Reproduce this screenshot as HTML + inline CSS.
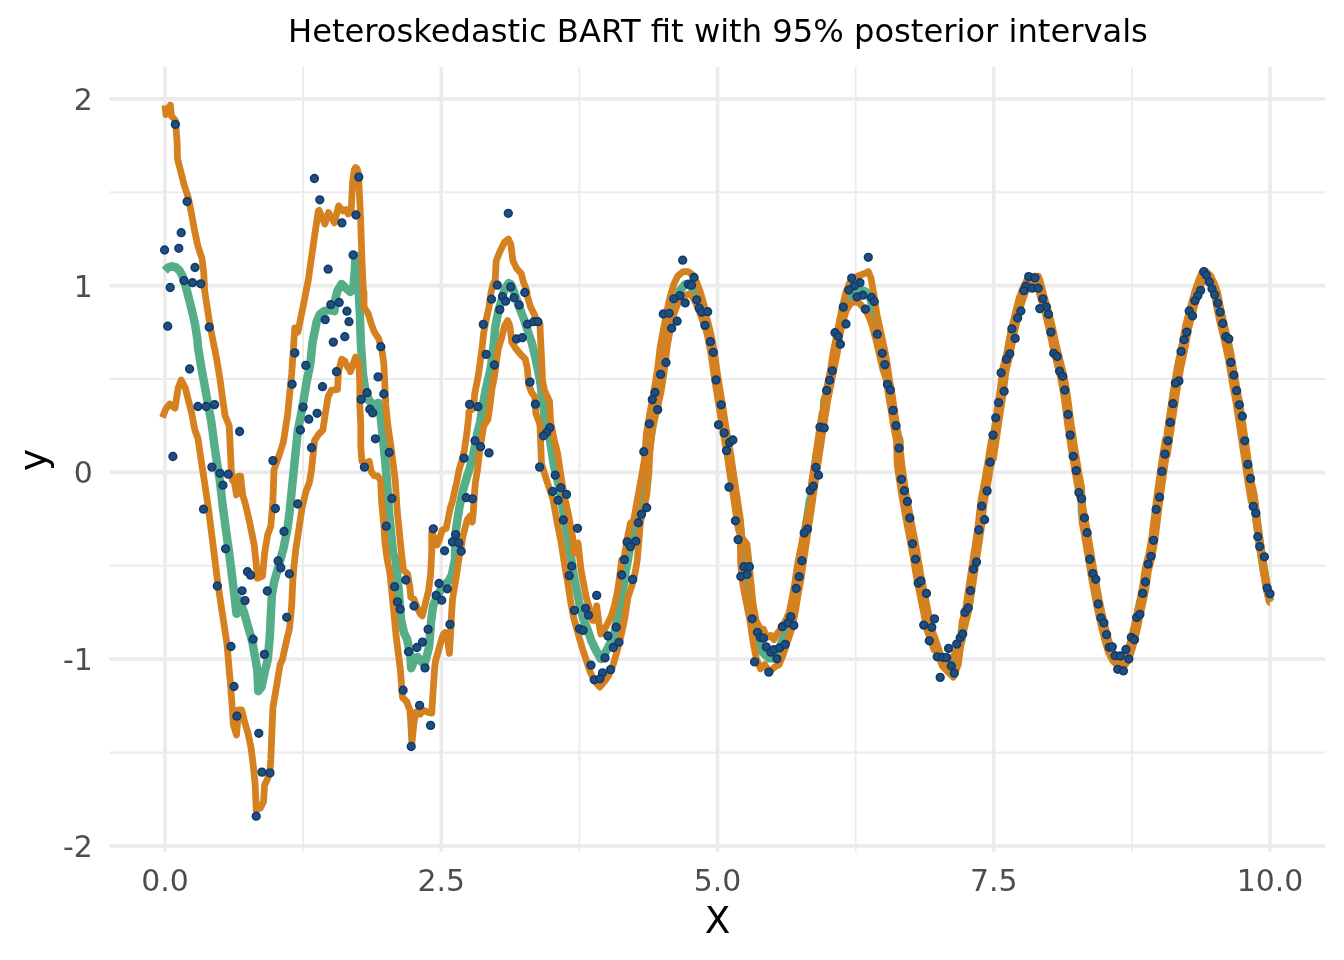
<!DOCTYPE html>
<html><head><meta charset="utf-8"><title>Heteroskedastic BART fit</title>
<style>html,body{margin:0;padding:0;background:#fff;}svg{display:block;}</style></head>
<body>
<svg width="1344" height="960" viewBox="0 0 1344 960">
<rect width="1344" height="960" fill="#fff"/>
<g stroke="#EBEBEB" stroke-width="1.81"><line x1="303.12" y1="67.1" x2="303.12" y2="851.7"/><line x1="579.38" y1="67.1" x2="579.38" y2="851.7"/><line x1="855.62" y1="67.1" x2="855.62" y2="851.7"/><line x1="1131.88" y1="67.1" x2="1131.88" y2="851.7"/><line x1="109.8" y1="752.52" x2="1325.4" y2="752.52"/><line x1="109.8" y1="565.77" x2="1325.4" y2="565.77"/><line x1="109.8" y1="379.02" x2="1325.4" y2="379.02"/><line x1="109.8" y1="192.27" x2="1325.4" y2="192.27"/></g>
<g stroke="#EBEBEB" stroke-width="3.62"><line x1="165.00" y1="67.1" x2="165.00" y2="851.7"/><line x1="441.25" y1="67.1" x2="441.25" y2="851.7"/><line x1="717.50" y1="67.1" x2="717.50" y2="851.7"/><line x1="993.75" y1="67.1" x2="993.75" y2="851.7"/><line x1="1270.00" y1="67.1" x2="1270.00" y2="851.7"/><line x1="109.8" y1="845.90" x2="1325.4" y2="845.90"/><line x1="109.8" y1="659.15" x2="1325.4" y2="659.15"/><line x1="109.8" y1="472.40" x2="1325.4" y2="472.40"/><line x1="109.8" y1="285.65" x2="1325.4" y2="285.65"/><line x1="109.8" y1="98.90" x2="1325.4" y2="98.90"/></g>
<path d="M164.8,270.8 L168.0,267.6 L172.0,266.2 L176.0,267.4 L179.5,270.5 L182.3,275.5 L184.6,282.5 L187.5,292.9 L190.1,303.3 L192.7,313.8 L195.0,324.0 L197.5,340.0 L197.9,346.7 L201.7,369.6 L206.7,396.7 L211.3,421.7 L214.6,446.7 L217.7,467.5 L219.8,480.0 L222.9,507.5 L226.0,530.4 L229.2,553.3 L232.3,578.3 L234.4,595.0 L236.5,613.8 L238.5,599.2 L240.6,603.3 L243.8,611.7 L247.9,626.2 L252.1,640.8 L255.2,657.5 L257.3,670.0 L258.3,691.2 L261.5,687.1 L264.6,672.5 L267.7,660.0 L269.8,636.7 L270.8,615.8 L271.9,595.0 L274.0,582.5 L278.1,567.9 L283.3,549.2 L287.5,528.3 L289.6,511.7 L291.7,490.8 L293.8,470.0 L297.9,430.0 L302.1,409.2 L306.2,384.2 L310.4,363.3 L312.5,342.5 L314.6,332.1 L316.7,321.7 L319.8,314.4 L324.0,311.2 L329.2,310.2 L334.4,311.2 L335.1,300.0 L337.3,291.2 L341.6,283.9 L345.3,287.6 L350.4,292.0 L353.3,288.3 L354.8,270.8 L355.5,256.0 L356.5,256.0 L357.7,264.0 L359.1,300.0 L359.8,311.2 L360.8,342.5 L362.9,373.8 L365.0,388.3 L369.2,400.8 L374.4,405.0 L378.5,402.9 L380.6,415.4 L382.7,436.2 L384.8,457.1 L386.9,480.0 L389.0,511.7 L391.0,532.5 L393.1,553.3 L395.6,560.0 L398.8,591.2 L400.8,618.3 L404.0,632.9 L407.1,639.2 L410.2,653.8 L411.2,668.3 L414.4,660.0 L417.5,656.9 L421.7,662.0 L424.8,663.1 L429.0,647.5 L431.0,622.5 L433.1,605.8 L437.3,595.4 L442.5,587.1 L448.8,580.8 L451.9,574.6 L455.0,560.0 L455.6,532.5 L457.7,517.9 L459.8,505.4 L462.9,490.8 L467.1,476.2 L469.2,470.0 L471.0,463.3 L474.1,450.8 L477.1,434.2 L480.2,421.7 L482.2,409.2 L485.2,392.5 L488.0,380.0 L490.9,367.5 L492.5,355.0 L493.9,342.5 L495.2,327.9 L498.3,311.2 L501.5,300.8 L503.5,292.5 L506.7,286.2 L508.8,283.1 L510.8,284.2 L515.0,294.6 L519.2,307.1 L523.3,317.5 L527.5,330.0 L531.7,342.5 L534.8,355.0 L537.9,369.6 L540.0,380.0 L544.6,415.8 L549.8,438.8 L554.0,465.8 L559.2,486.7 L563.3,511.7 L567.5,536.7 L571.7,561.7 L572.7,570.0 L574.8,580.8 L579.0,601.7 L583.1,618.3 L587.3,628.8 L591.5,641.2 L595.6,649.6 L600.8,659.0 L606.0,651.7 L610.2,643.3 L614.4,632.9 L617.5,618.3 L620.6,601.7 L623.8,585.0 L625.8,570.4 L627.9,560.0 L629.0,553.3 L632.1,536.7 L635.2,524.2 L638.3,511.7 L642.5,486.7 L646.7,463.8 L652.9,422.1 L659.2,380.4 L661.2,370.0 L663.3,359.2 L667.5,338.3 L671.7,317.5 L675.8,302.9 L680.0,290.4 L685.2,284.2 L690.4,285.2 L694.6,292.5 L698.8,305.0 L702.9,317.5 L705.5,320.0 L706.0,322.0 L706.5,324.1 L707.0,326.1 L707.5,328.1 L708.0,330.1 L708.5,332.2 L709.0,334.2 L709.5,336.5 L710.0,339.1 L710.5,341.7 L711.0,344.3 L711.5,346.8 L712.0,349.4 L712.5,352.0 L713.0,355.5 L713.5,359.0 L714.0,362.5 L714.5,366.0 L715.0,369.5 L715.5,373.0 L716.0,376.2 L716.5,379.4 L717.0,382.5 L717.5,385.6 L718.0,388.7 L718.5,391.9 L719.0,394.9 L719.5,397.9 L720.0,400.9 L720.5,404.0 L721.0,407.0 L721.5,410.0 L722.0,413.3 L722.5,416.6 L723.0,419.9 L723.5,423.1 L724.0,426.2 L724.5,429.3 L725.0,432.3 L725.5,435.3 L726.0,438.1 L726.5,440.9 L727.0,443.8 L727.5,446.6 L728.0,449.4 L728.5,452.2 L729.0,455.0 L729.5,458.5 L730.0,461.9 L730.5,465.4 L731.0,468.9 L731.5,472.3 L732.0,475.8 L732.5,479.1 L733.0,482.3 L733.5,485.6 L734.0,488.9 L734.5,492.1 L735.0,495.4 L735.5,498.7 L736.0,502.1 L736.5,505.4 L737.0,508.8 L737.5,512.1 L738.0,515.5 L738.5,518.7 L739.0,521.7 L739.5,524.6 L740.0,527.6 L740.4,530.0 L742.7,554.2 L744.8,566.7 L746.9,583.3 L750.0,604.2 L754.2,625.0 L758.3,641.7 L762.5,652.1 L768.8,658.3 L774.0,658.3 L779.2,650.0 L783.3,637.5 L787.5,625.0 L791.7,608.3 L794.8,591.7 L797.9,570.8 L801.5,552.1 L805.2,531.2 L810.0,500.0 L810.5,500.7 L811.0,498.0 L811.5,495.0 L812.0,491.7 L812.5,488.3 L813.0,485.0 L813.5,481.7 L814.0,478.3 L814.5,475.0 L815.0,471.7 L815.5,468.3 L816.0,465.0 L816.5,461.7 L817.0,458.3 L817.5,455.0 L818.0,451.7 L818.5,448.3 L819.0,445.0 L819.5,441.7 L820.0,438.3 L820.5,435.0 L821.0,431.7 L821.5,428.3 L822.0,425.0 L822.5,421.7 L823.0,418.3 L823.5,415.0 L823.8,413.3 L824.3,400.6 L827.4,392.8 L827.7,392.1 L830.6,377.7 L830.8,376.5 L832.9,364.1 L833.9,359.1 L836.1,348.3 L837.1,343.4 L839.2,330.9 L839.4,329.7 L842.3,315.2 L842.5,314.3 L846.0,301.8 L846.5,300.4 L849.5,294.2 L851.0,292.1 L853.0,290.6 L855.0,289.6 L857.0,289.4 L859.0,289.4 L862.0,290.2 L863.0,290.6 L866.0,292.1 L866.5,292.3 L868.3,293.5 L869.5,296.2 L871.0,300.2 L872.5,306.8 L874.0,313.8 L876.0,324.2 L877.0,329.6 L879.5,340.7 L880.5,345.1 L883.0,356.2 L884.0,359.9 L885.8,367.1 L887.0,374.0 L888.3,382.7 L889.2,388.5 L891.0,398.8 L892.0,404.8 L893.4,414.1 L894.3,419.5 L896.5,432.5 L896.6,432.8 L899.5,440.6 L899.6,465.0 L900.1,469.0 L900.6,472.4 L901.1,475.7 L901.6,479.0 L902.1,482.4 L902.6,485.7 L903.1,489.0 L903.6,492.4 L904.1,495.4 L904.6,498.2 L905.1,500.9 L905.6,503.6 L906.1,506.4 L906.6,509.1 L907.1,511.8 L907.6,514.6 L908.1,517.3 L908.6,520.1 L909.1,522.7 L909.6,525.3 L910.1,527.9 L910.6,530.5 L911.1,533.2 L911.6,535.8 L912.1,538.4 L912.6,541.0 L913.1,543.6 L913.6,546.2 L914.1,548.9 L914.6,551.8 L915.1,554.8 L915.6,557.8 L916.1,560.8 L916.6,563.8 L917.1,566.7 L917.6,569.7 L918.1,572.7 L918.6,575.7 L919.1,578.2 L919.6,580.7 L920.1,583.2 L920.6,585.7 L921.1,588.2 L921.6,590.7 L922.1,593.2 L922.6,595.7 L923.1,598.2 L923.6,600.7 L924.1,603.2 L924.6,605.7 L925.1,608.2 L925.6,610.7 L926.1,613.2 L926.6,615.7 L927.1,618.2 L927.6,620.7 L928.1,623.2 L928.6,625.7 L929.1,628.2 L929.6,630.2 L930.1,631.6 L930.6,633.0 L931.1,634.4 L931.6,635.8 L932.1,637.2 L932.6,638.6 L933.1,640.0 L933.6,641.4 L934.1,642.8 L934.6,644.2 L935.1,645.6 L935.6,647.0 L936.1,648.4 L936.2,648.7 L941.9,660.9 L949.2,663.6 L956.0,656.8 L961.4,640.5 L961.9,630.5 L962.4,628.5 L962.9,626.5 L963.4,624.5 L963.9,622.5 L964.4,620.5 L964.9,618.5 L965.4,616.5 L965.9,614.5 L966.4,612.5 L966.9,610.5 L967.4,608.5 L967.9,605.6 L968.4,602.2 L968.9,598.9 L969.4,595.6 L969.9,592.2 L970.4,588.9 L970.9,585.6 L971.4,582.2 L971.9,578.9 L972.4,575.6 L972.9,572.2 L973.4,568.9 L973.9,565.6 L974.4,562.2 L974.9,558.9 L975.4,555.6 L975.9,552.2 L976.4,548.9 L976.9,545.6 L977.4,542.2 L977.9,538.9 L978.4,535.6 L978.9,532.2 L979.4,528.9 L979.9,525.1 L980.4,520.6 L980.9,516.1 L981.4,511.6 L981.9,507.1 L982.4,502.6 L982.9,499.9 L983.4,497.2 L983.9,494.5 L984.4,491.9 L984.9,489.2 L985.4,486.5 L985.9,483.9 L986.4,481.2 L986.9,478.3 L987.4,475.3 L987.9,472.3 L988.4,469.3 L988.9,466.3 L989.4,463.3 L989.9,460.3 L990.4,457.3 L990.9,454.3 L991.4,451.3 L991.9,448.3 L992.4,445.3 L992.9,442.3 L993.3,440.0 L993.4,446.8 L993.9,443.5 L994.4,440.2 L994.9,436.8 L995.4,433.5 L995.9,430.2 L996.4,426.8 L996.9,423.5 L997.4,420.2 L997.9,416.8 L998.4,413.5 L998.9,410.2 L999.4,406.8 L999.9,403.5 L1000.4,400.2 L1000.9,396.8 L1001.4,393.5 L1001.9,389.8 L1002.4,385.8 L1002.9,381.8 L1003.4,377.8 L1003.9,373.8 L1004.4,370.0 L1004.9,368.0 L1005.4,366.0 L1005.9,364.0 L1006.4,362.0 L1006.9,360.0 L1007.4,358.0 L1007.9,356.0 L1008.4,354.0 L1008.9,351.3 L1009.4,348.7 L1009.9,346.0 L1010.4,343.3 L1010.9,340.7 L1011.4,338.0 L1011.9,335.3 L1012.4,332.7 L1012.9,330.5 L1013.4,328.5 L1013.9,326.5 L1014.4,324.5 L1014.9,322.5 L1015.4,320.5 L1015.9,318.5 L1016.4,316.5 L1016.9,314.5 L1017.4,312.5 L1017.9,310.5 L1018.4,308.5 L1018.9,306.5 L1019.4,304.5 L1019.9,302.5 L1020.4,300.5 L1020.9,298.9 L1021.4,297.6 L1021.9,296.2 L1022.4,294.9 L1022.9,293.6 L1023.4,292.2 L1023.9,290.9 L1024.4,289.6 L1024.9,288.4 L1025.4,287.4 L1025.9,286.4 L1026.4,285.4 L1026.9,284.4 L1027.4,283.4 L1027.9,282.4 L1028.4,281.4 L1028.9,280.6 L1029.4,280.2 L1029.9,279.9 L1030.4,279.6 L1030.9,279.2 L1031.4,278.9 L1031.9,278.6 L1032.4,278.2 L1032.9,277.9 L1033.4,277.9 L1033.9,277.8 L1034.4,277.7 L1034.9,277.7 L1035.4,277.6 L1035.9,277.5 L1036.4,277.5 L1036.9,277.4 L1037.4,279.0 L1037.9,280.6 L1038.4,282.2 L1038.9,283.8 L1039.4,285.4 L1039.9,287.3 L1040.4,289.3 L1040.9,291.3 L1041.4,293.3 L1041.9,295.3 L1042.4,297.2 L1042.9,298.9 L1043.4,300.5 L1043.9,302.2 L1044.4,303.9 L1044.9,305.5 L1045.4,307.2 L1045.9,308.9 L1046.4,310.6 L1046.9,312.6 L1047.4,314.6 L1047.9,316.6 L1048.4,318.6 L1048.9,320.6 L1049.4,322.6 L1049.9,324.6 L1050.4,326.6 L1050.9,328.9 L1051.4,331.2 L1051.9,333.5 L1052.4,335.9 L1052.9,338.2 L1053.4,340.5 L1053.9,342.9 L1054.4,345.2 L1054.9,347.3 L1055.4,349.3 L1055.9,351.3 L1056.4,353.3 L1056.9,355.3 L1057.4,357.3 L1057.9,359.3 L1058.4,361.3 L1058.9,363.3 L1059.4,365.3 L1059.9,367.3 L1060.4,369.3 L1060.9,371.3 L1061.4,373.3 L1061.9,375.3 L1062.4,377.3 L1062.9,379.8 L1063.4,382.7 L1063.9,385.6 L1064.4,388.5 L1064.9,391.4 L1065.4,394.3 L1065.9,397.3 L1066.4,401.1 L1066.9,405.0 L1067.4,408.8 L1067.9,412.7 L1068.4,416.5 L1068.9,420.4 L1069.4,424.2 L1069.9,427.5 L1070.4,430.9 L1070.9,434.2 L1071.4,437.5 L1071.9,440.9 L1072.4,444.2 L1072.9,447.5 L1073.4,450.9 L1073.9,453.9 L1074.4,456.9 L1074.9,459.9 L1075.4,462.9 L1075.9,465.9 L1076.4,468.9 L1076.9,471.9 L1077.4,474.9 L1077.9,477.7 L1078.4,480.4 L1078.9,483.0 L1079.4,485.7 L1079.9,488.4 L1080.4,491.0 L1080.9,493.7 L1081.4,496.4 L1081.6,497.5 L1082.0,512.1 L1082.5,514.8 L1083.0,517.4 L1083.5,520.1 L1084.0,522.8 L1084.5,525.4 L1085.0,528.1 L1085.5,530.8 L1086.0,533.6 L1086.5,536.6 L1087.0,539.6 L1087.5,542.6 L1088.0,545.6 L1088.5,548.6 L1089.0,551.6 L1089.5,554.6 L1090.0,557.6 L1090.5,560.6 L1091.0,563.6 L1091.5,566.6 L1092.0,569.6 L1092.5,572.6 L1093.0,575.6 L1093.5,578.6 L1094.0,581.5 L1094.5,584.2 L1095.0,586.8 L1095.5,589.5 L1096.0,592.2 L1096.5,594.8 L1097.0,597.5 L1097.5,600.2 L1098.0,602.8 L1098.5,605.1 L1099.0,607.5 L1099.5,609.8 L1100.0,612.1 L1100.5,614.5 L1101.0,616.8 L1101.5,619.1 L1102.0,621.5 L1102.5,623.5 L1103.0,625.5 L1103.5,627.5 L1104.0,629.5 L1104.5,631.5 L1105.0,633.5 L1105.5,635.5 L1106.0,637.5 L1106.5,639.2 L1107.0,640.9 L1107.5,642.5 L1108.0,644.2 L1108.5,645.9 L1109.0,647.5 L1109.5,649.2 L1110.0,650.9 L1110.5,652.1 L1111.0,653.1 L1111.5,654.1 L1112.0,655.1 L1112.5,656.1 L1113.0,657.1 L1113.5,658.1 L1114.0,659.1 L1114.5,659.8 L1115.0,660.3 L1115.5,660.8 L1116.0,661.3 L1116.5,661.8 L1117.0,662.3 L1117.5,662.8 L1118.0,663.3 L1118.5,663.8 L1119.0,664.3 L1119.5,664.8 L1120.0,664.8 L1120.5,664.6 L1121.0,664.5 L1121.5,664.3 L1122.0,664.1 L1122.5,664.0 L1123.0,663.8 L1123.5,663.6 L1124.0,663.1 L1124.5,662.2 L1125.0,661.4 L1125.5,660.6 L1126.0,659.7 L1126.5,658.9 L1127.0,658.1 L1127.5,657.2 L1128.0,656.0 L1128.5,654.4 L1129.0,652.7 L1129.5,651.0 L1130.0,649.4 L1130.5,647.7 L1131.0,646.0 L1131.5,644.4 L1132.0,642.6 L1132.5,640.6 L1133.0,638.6 L1133.5,636.6 L1134.0,634.6 L1134.5,632.6 L1135.0,630.6 L1135.5,628.6 L1136.0,626.5 L1136.5,624.2 L1137.0,621.8 L1137.5,619.5 L1138.0,617.2 L1138.5,614.8 L1139.0,612.5 L1139.5,610.2 L1140.0,607.8 L1140.5,605.5 L1141.0,603.2 L1141.5,600.8 L1142.0,598.5 L1142.5,596.2 L1143.0,593.8 L1143.5,591.5 L1144.0,589.2 L1144.5,585.7 L1145.0,582.2 L1145.5,578.7 L1146.0,575.2 L1146.5,571.7 L1147.0,569.0 L1147.5,567.0 L1148.0,565.0 L1148.5,563.0 L1149.0,561.0 L1149.5,559.0 L1150.0,557.0 L1150.5,555.0 L1151.0,552.6 L1151.5,549.6 L1152.0,546.6 L1152.5,543.6 L1153.0,540.6 L1153.5,537.6 L1154.0,533.6 L1154.5,529.6 L1155.0,525.6 L1155.5,521.6 L1156.0,517.6 L1156.5,513.6 L1157.0,509.6 L1157.5,505.6 L1158.0,501.6 L1158.5,497.6 L1159.0,493.7 L1159.5,490.2 L1160.0,486.7 L1160.5,483.2 L1161.0,479.7 L1161.5,476.2 L1162.0,472.7 L1162.5,469.2 L1163.0,465.7 L1163.5,462.2 L1164.0,458.7 L1164.5,455.4 L1165.0,452.4 L1165.5,449.4 L1166.0,446.4 L1166.5,443.4 L1167.0,440.4 L1167.0,440.0 L1167.2,443.5 L1167.7,440.2 L1168.2,436.8 L1168.7,433.5 L1169.2,430.2 L1169.7,426.8 L1170.2,423.5 L1170.7,420.2 L1171.2,416.8 L1171.7,413.5 L1172.2,410.2 L1172.7,406.8 L1173.2,403.5 L1173.7,400.2 L1174.2,396.8 L1174.7,393.5 L1175.2,390.3 L1175.7,387.3 L1176.2,384.3 L1176.7,381.3 L1177.2,378.3 L1177.7,375.3 L1178.2,372.3 L1178.7,369.3 L1179.2,366.6 L1179.7,364.2 L1180.2,361.9 L1180.7,359.6 L1181.2,357.2 L1181.7,354.9 L1182.2,352.6 L1182.7,350.2 L1183.2,347.8 L1183.7,345.1 L1184.2,342.5 L1184.7,339.8 L1185.2,337.1 L1185.7,334.5 L1186.2,331.8 L1186.7,329.1 L1187.2,326.6 L1187.7,324.7 L1188.2,322.8 L1188.7,320.9 L1189.2,319.1 L1189.7,317.2 L1190.2,315.3 L1190.7,313.4 L1191.2,311.5 L1191.7,309.7 L1192.2,307.8 L1192.7,306.0 L1193.2,304.3 L1193.7,302.5 L1194.2,300.7 L1194.7,299.0 L1195.2,297.2 L1195.7,295.4 L1196.2,293.7 L1196.7,291.9 L1197.2,290.4 L1197.7,288.9 L1198.2,287.5 L1198.7,286.0 L1199.2,284.6 L1199.7,283.1 L1200.2,281.7 L1200.7,280.3 L1201.2,279.2 L1201.7,278.0 L1202.2,276.9 L1202.7,275.7 L1203.2,274.6 L1203.7,273.4 L1204.2,272.6 L1204.7,273.1 L1205.2,273.5 L1205.7,273.9 L1206.2,274.4 L1206.7,274.8 L1207.2,275.3 L1207.7,275.7 L1208.2,276.2 L1208.7,276.6 L1209.2,277.6 L1209.7,278.6 L1210.2,279.6 L1210.7,280.6 L1211.2,281.6 L1211.7,282.6 L1212.2,283.6 L1212.7,284.6 L1213.2,285.9 L1213.7,287.3 L1214.2,288.7 L1214.7,290.1 L1215.2,291.4 L1215.7,292.8 L1216.2,294.2 L1216.7,296.9 L1217.2,299.6 L1217.7,302.3 L1218.2,305.1 L1218.7,307.5 L1219.2,309.8 L1219.7,312.2 L1220.2,314.6 L1220.7,317.0 L1221.2,319.4 L1221.7,321.7 L1222.2,323.7 L1222.7,325.7 L1223.2,327.7 L1223.7,329.7 L1224.2,331.7 L1224.7,333.7 L1225.2,335.7 L1225.7,337.7 L1226.2,340.1 L1226.7,342.4 L1227.2,344.7 L1227.7,347.1 L1228.2,349.4 L1228.7,351.7 L1229.2,354.1 L1229.7,356.4 L1230.2,359.4 L1230.7,362.4 L1231.2,365.4 L1231.7,368.4 L1232.2,371.4 L1232.7,374.4 L1233.2,377.4 L1233.7,380.4 L1234.2,383.1 L1234.7,385.8 L1235.2,388.4 L1235.7,391.1 L1236.2,393.8 L1236.7,396.4 L1237.2,399.1 L1237.7,401.8 L1238.2,404.9 L1238.7,408.2 L1239.2,411.6 L1239.7,414.9 L1240.2,418.2 L1240.7,421.6 L1241.2,424.9 L1241.7,428.2 L1242.2,431.6 L1242.7,434.9 L1243.2,438.2 L1243.7,441.6 L1244.2,444.9 L1244.7,448.2 L1245.2,451.6 L1245.7,454.9 L1246.2,458.2 L1246.7,461.6 L1247.2,464.9 L1247.7,468.2 L1248.2,471.6 L1248.7,474.9 L1249.2,478.2 L1249.7,481.6 L1250.2,484.8 L1250.7,487.8 L1251.2,490.8 L1251.7,493.8 L1252.2,496.8 L1252.7,499.8 L1252.8,500.2 L1253.0,493.3 L1253.5,496.7 L1254.0,500.0 L1254.5,503.8 L1255.0,507.6 L1255.5,511.4 L1256.0,515.2 L1256.5,519.0 L1257.0,522.8 L1257.5,526.6 L1258.0,530.4 L1258.5,534.2 L1259.0,537.9 L1259.5,541.2 L1260.0,544.6 L1260.5,547.9 L1261.0,551.3 L1261.5,554.6 L1262.0,558.0 L1262.5,561.3 L1263.0,564.7 L1263.5,568.0 L1264.0,570.9 L1264.5,573.7 L1265.0,576.6 L1265.5,579.4 L1266.0,582.3 L1266.5,585.1 L1267.0,588.0 L1267.5,590.2 L1268.0,592.3 L1268.5,594.5 L1269.0,596.7 L1269.5,598.8 L1270.0,601.0" fill="none" stroke="#55AE88" stroke-width="8.5" stroke-linejoin="round"/>
<path d="M165.0,105.4 L166.0,114.6 L170.4,105.0 L171.5,116.0 L175.4,120.4 L177.1,142.1 L177.5,158.8 L181.2,173.3 L184.4,185.8 L188.5,198.3 L191.7,215.0 L194.8,231.7 L197.9,246.2 L202.1,258.8 L203.8,273.3 L204.6,290.0 L206.2,300.8 L209.4,321.7 L212.5,338.3 L216.7,359.2 L219.8,377.9 L222.9,400.8 L225.0,415.4 L229.2,425.8 L230.2,446.7 L231.2,467.5 L232.3,480.0 L234.4,482.5 L236.5,495.0 L238.5,476.2 L240.6,476.2 L242.7,495.0 L245.8,505.4 L250.0,524.2 L254.2,545.0 L256.2,563.8 L257.3,578.3 L262.5,576.2 L264.6,553.3 L267.7,534.6 L270.8,526.2 L272.9,501.2 L274.0,470.0 L279.2,455.0 L283.3,442.5 L287.5,415.4 L289.6,394.6 L291.7,373.8 L293.8,342.5 L294.8,327.9 L297.9,332.1 L300.0,321.7 L304.2,300.8 L308.3,280.0 L314.6,235.8 L318.3,211.0 L319.1,210.3 L324.9,224.1 L328.5,212.5 L334.4,222.7 L338.7,205.9 L343.1,211.0 L346.0,209.6 L348.2,213.9 L351.1,212.5 L352.6,181.9 L354.2,170.0 L355.5,167.5 L356.8,168.5 L358.4,173.0 L360.6,218.3 L362.0,262.0 L363.3,290.0 L364.0,292.5 L364.0,307.1 L368.1,313.3 L371.2,323.8 L374.4,332.1 L378.5,338.3 L381.7,348.8 L383.8,363.3 L384.8,384.2 L385.8,405.0 L387.9,425.8 L391.0,446.7 L393.1,463.3 L395.2,480.0 L397.3,511.7 L399.4,532.5 L401.5,553.3 L403.5,570.0 L407.7,574.2 L409.8,586.7 L410.8,597.1 L414.0,599.2 L417.1,607.5 L420.2,613.8 L422.3,615.8 L425.4,603.3 L428.5,590.8 L430.6,574.2 L431.7,553.3 L431.7,532.5 L433.8,536.7 L436.9,545.0 L439.0,540.8 L442.1,530.4 L446.2,528.3 L448.3,517.9 L450.4,507.5 L452.5,501.2 L454.6,490.8 L456.7,482.5 L459.0,470.0 L461.5,462.0 L464.4,450.0 L467.0,432.0 L468.5,418.0 L469.0,411.5 L473.5,408.5 L474.7,393.8 L478.4,375.0 L482.2,346.9 L482.8,341.0 L483.8,332.1 L485.8,321.7 L489.0,307.1 L491.0,292.5 L493.1,284.2 L495.2,280.0 L496.2,260.8 L500.4,250.4 L504.6,242.1 L508.3,239.0 L510.8,244.2 L512.9,260.8 L517.1,269.2 L521.2,273.3 L523.3,281.7 L526.5,290.0 L527.5,296.7 L530.6,307.1 L534.8,315.4 L536.9,321.7 L540.0,323.8 L540.4,336.2 L541.5,357.1 L542.5,380.0 L544.6,390.8 L549.5,401.2 L550.6,422.1 L554.0,438.8 L557.6,453.3 L560.7,474.2 L564.1,495.0 L568.7,515.8 L572.5,536.7 L574.3,553.3 L578.0,542.9 L581.0,570.0 L583.1,580.8 L586.2,597.5 L589.4,607.9 L592.5,620.4 L595.6,620.4 L596.7,605.8 L598.8,622.5 L600.8,634.0 L604.0,630.8 L607.1,624.6 L611.2,616.2 L614.4,605.8 L617.5,591.2 L619.6,576.7 L621.7,560.0 L623.8,560.0 L627.0,540.0 L630.5,523.0 L633.5,521.0 L635.5,510.0 L637.7,497.5 L641.0,480.0 L644.4,460.0 L646.5,432.5 L649.5,415.0 L652.5,400.0 L655.7,380.4 L657.5,370.0 L660.2,346.7 L663.3,330.0 L666.5,313.3 L669.6,298.8 L673.8,284.2 L677.9,275.8 L683.1,271.7 L688.3,271.7 L692.5,274.8 L696.7,282.1 L699.8,290.4 L702.9,300.8 L706.0,313.3 L706.5,318.7 L707.0,318.7 L707.5,320.3 L708.0,322.3 L708.5,324.4 L709.0,326.4 L709.5,328.4 L710.0,330.5 L710.5,332.5 L711.0,334.7 L711.5,337.3 L712.0,339.9 L712.5,342.5 L713.0,345.0 L713.5,347.6 L714.0,350.2 L714.5,353.5 L715.0,357.0 L715.5,360.5 L716.0,364.0 L716.5,367.5 L717.0,371.0 L717.5,374.3 L718.0,377.4 L718.5,380.6 L719.0,383.7 L719.5,386.8 L720.0,389.9 L720.5,393.0 L721.0,396.0 L721.5,399.0 L722.0,402.1 L722.5,405.1 L723.0,408.1 L723.5,411.3 L724.0,414.7 L724.5,418.0 L725.0,421.2 L725.5,424.2 L726.0,427.3 L726.5,430.4 L727.0,433.5 L727.5,436.3 L728.0,439.1 L728.5,441.9 L729.0,444.7 L729.5,447.5 L730.0,450.3 L730.5,453.1 L731.0,456.5 L731.5,459.9 L732.0,463.4 L732.5,466.9 L733.0,470.3 L733.5,473.8 L734.0,477.1 L734.5,480.4 L735.0,483.6 L735.5,486.9 L736.0,490.2 L736.5,493.4 L737.0,496.7 L737.5,500.1 L738.0,503.5 L738.5,506.8 L739.0,510.2 L739.5,513.5 L740.0,516.8 L740.4,519.2 L741.7,537.5 L746.9,543.8 L749.0,562.5 L751.0,583.3 L753.1,604.2 L756.2,620.8 L760.4,629.2 L763.5,629.2 L766.7,637.5 L770.8,635.4 L774.0,639.6 L777.1,633.3 L781.2,629.2 L785.4,620.8 L789.2,612.5 L791.7,600.0 L794.8,583.3 L797.9,562.5 L802.1,541.7 L806.2,520.8 L811.5,500.0 L811.5,483.0 L812.0,479.7 L812.5,476.4 L813.0,473.0 L813.5,469.7 L814.0,466.4 L814.5,463.0 L815.0,459.7 L815.5,456.4 L816.0,453.0 L816.5,449.7 L817.0,446.4 L817.5,443.0 L818.0,439.7 L818.5,436.4 L819.0,433.0 L819.5,429.7 L820.0,426.4 L820.5,423.0 L821.0,419.7 L821.5,416.4 L822.0,413.0 L822.5,412.0 L823.0,412.0 L823.5,412.0 L823.8,412.0 L824.3,400.6 L827.4,385.0 L830.6,369.4 L832.9,353.8 L836.1,338.0 L839.2,322.5 L842.3,306.9 L846.0,292.0 L849.5,283.0 L853.0,279.0 L857.0,276.5 L862.0,274.5 L866.0,273.0 L868.3,271.5 L871.0,278.0 L874.0,295.0 L877.0,315.0 L880.5,331.0 L884.0,347.0 L887.0,362.5 L889.2,378.0 L892.0,393.8 L894.3,409.4 L896.6,425.0 L899.5,440.6 L899.6,442.7 L900.1,447.7 L900.6,452.7 L901.1,457.7 L901.6,462.7 L902.1,467.1 L902.6,470.4 L903.1,473.7 L903.6,477.1 L904.1,480.4 L904.6,483.7 L905.1,487.1 L905.6,490.4 L906.1,493.6 L906.6,496.3 L907.1,499.1 L907.6,501.8 L908.1,504.5 L908.6,507.3 L909.1,510.0 L909.6,512.7 L910.1,515.5 L910.6,518.2 L911.1,520.9 L911.6,523.5 L912.1,526.1 L912.6,528.7 L913.1,531.3 L913.6,533.9 L914.1,536.6 L914.6,539.2 L915.1,541.8 L915.6,544.4 L916.1,547.0 L916.6,549.9 L917.1,552.9 L917.6,555.9 L918.1,558.9 L918.6,561.9 L919.1,564.8 L919.6,567.8 L920.1,570.8 L920.6,573.8 L921.1,576.4 L921.6,578.9 L922.1,581.4 L922.6,583.9 L923.1,586.4 L923.6,588.9 L924.1,591.4 L924.6,593.9 L925.1,596.4 L925.6,598.9 L926.1,601.4 L926.6,603.9 L927.1,606.4 L927.6,608.9 L928.1,611.4 L928.6,613.9 L929.1,616.4 L929.6,618.9 L930.1,621.4 L930.6,623.9 L931.1,626.4 L931.6,628.7 L932.1,630.1 L932.6,631.5 L933.1,632.9 L933.6,634.3 L934.1,635.7 L934.6,637.1 L935.1,638.5 L935.6,639.9 L936.1,641.3 L936.2,641.5 L941.1,656.8 L947.3,660.9 L953.3,656.8 L957.4,648.7 L961.4,640.5 L961.9,622.8 L962.4,620.8 L962.9,618.8 L963.4,616.8 L963.9,614.8 L964.4,612.8 L964.9,610.8 L965.4,608.8 L965.9,606.8 L966.4,603.6 L966.9,600.3 L967.4,596.9 L967.9,593.6 L968.4,590.3 L968.9,586.9 L969.4,583.6 L969.9,580.3 L970.4,576.9 L970.9,573.6 L971.4,570.3 L971.9,566.9 L972.4,563.6 L972.9,560.3 L973.4,556.9 L973.9,553.6 L974.4,550.3 L974.9,546.9 L975.4,543.6 L975.9,540.3 L976.4,536.9 L976.9,533.6 L977.4,530.3 L977.9,526.9 L978.4,522.9 L978.9,518.4 L979.4,513.9 L979.9,509.4 L980.4,504.9 L980.9,500.7 L981.4,498.0 L981.9,495.4 L982.4,492.7 L982.9,490.0 L983.4,487.4 L983.9,484.7 L984.4,482.0 L984.9,479.4 L985.4,476.4 L985.9,473.4 L986.4,470.4 L986.9,467.4 L987.4,464.4 L987.9,461.4 L988.4,458.4 L988.9,455.4 L989.4,452.4 L989.9,449.4 L990.4,446.4 L990.9,443.4 L991.4,440.4 L991.9,438.7 L992.4,438.7 L992.9,438.7 L993.3,438.7 L993.4,434.9 L993.9,431.5 L994.4,428.2 L994.9,424.9 L995.4,421.5 L995.9,418.2 L996.4,414.9 L996.9,411.5 L997.4,408.2 L997.9,404.9 L998.4,401.5 L998.9,398.2 L999.4,394.9 L999.9,391.5 L1000.4,387.7 L1000.9,383.7 L1001.4,379.7 L1001.9,375.7 L1002.4,371.7 L1002.9,368.3 L1003.4,366.3 L1003.9,364.3 L1004.4,362.3 L1004.9,360.3 L1005.4,358.3 L1005.9,356.3 L1006.4,354.3 L1006.9,352.2 L1007.4,349.5 L1007.9,346.8 L1008.4,344.2 L1008.9,341.5 L1009.4,338.8 L1009.9,336.2 L1010.4,333.5 L1010.9,330.8 L1011.4,328.8 L1011.9,326.8 L1012.4,324.8 L1012.9,322.8 L1013.4,320.8 L1013.9,318.8 L1014.4,316.8 L1014.9,314.8 L1015.4,312.8 L1015.9,310.8 L1016.4,308.8 L1016.9,306.8 L1017.4,304.8 L1017.9,302.8 L1018.4,300.8 L1018.9,298.8 L1019.4,297.3 L1019.9,296.0 L1020.4,294.7 L1020.9,293.3 L1021.4,292.0 L1021.9,290.7 L1022.4,289.3 L1022.9,288.0 L1023.4,286.9 L1023.9,285.9 L1024.4,284.9 L1024.9,283.9 L1025.4,282.9 L1025.9,281.9 L1026.4,280.9 L1026.9,279.9 L1027.4,279.2 L1027.9,278.9 L1028.4,278.5 L1028.9,278.2 L1029.4,277.9 L1029.9,277.5 L1030.4,277.2 L1030.9,276.9 L1031.4,276.6 L1031.9,276.6 L1032.4,276.5 L1032.9,276.4 L1033.4,276.4 L1033.9,276.3 L1034.4,276.2 L1034.9,276.2 L1035.4,276.4 L1035.9,276.4 L1036.4,276.4 L1036.9,276.3 L1037.4,276.2 L1037.9,276.2 L1038.4,276.1 L1038.9,277.4 L1039.4,279.0 L1039.9,280.6 L1040.4,282.2 L1040.9,283.8 L1041.4,285.6 L1041.9,287.6 L1042.4,289.6 L1042.9,291.6 L1043.4,293.6 L1043.9,295.6 L1044.4,297.2 L1044.9,298.9 L1045.4,300.6 L1045.9,302.2 L1046.4,303.9 L1046.9,305.6 L1047.4,307.2 L1047.9,308.9 L1048.4,310.9 L1048.9,312.9 L1049.4,314.9 L1049.9,316.9 L1050.4,318.9 L1050.9,320.9 L1051.4,322.9 L1051.9,324.9 L1052.4,327.1 L1052.9,329.4 L1053.4,331.8 L1053.9,334.1 L1054.4,336.4 L1054.9,338.8 L1055.4,341.1 L1055.9,343.4 L1056.4,345.6 L1056.9,347.6 L1057.4,349.6 L1057.9,351.6 L1058.4,353.6 L1058.9,355.6 L1059.4,357.6 L1059.9,359.6 L1060.4,361.6 L1060.9,363.6 L1061.4,365.6 L1061.9,367.6 L1062.4,369.6 L1062.9,371.6 L1063.4,373.6 L1063.9,375.6 L1064.4,377.9 L1064.9,380.8 L1065.4,383.7 L1065.9,386.6 L1066.4,389.5 L1066.9,392.5 L1067.4,395.4 L1067.9,399.1 L1068.4,402.9 L1068.9,406.7 L1069.4,410.6 L1069.9,414.4 L1070.4,418.3 L1070.9,422.1 L1071.4,425.6 L1071.9,428.9 L1072.4,432.2 L1072.9,435.6 L1073.4,438.9 L1073.9,442.2 L1074.4,445.6 L1074.9,448.9 L1075.4,452.0 L1075.9,455.0 L1076.4,458.0 L1076.9,461.0 L1077.4,464.0 L1077.9,467.0 L1078.4,470.0 L1078.9,473.0 L1079.4,475.9 L1079.9,478.5 L1080.4,481.2 L1080.9,483.9 L1081.4,486.5 L1081.6,487.6 L1082.0,502.3 L1082.5,504.9 L1083.0,507.6 L1083.5,510.3 L1084.0,512.9 L1084.5,515.6 L1085.0,518.3 L1085.5,520.9 L1086.0,523.6 L1086.5,526.3 L1087.0,528.9 L1087.5,531.7 L1088.0,534.7 L1088.5,537.7 L1089.0,540.7 L1089.5,543.7 L1090.0,546.7 L1090.5,549.7 L1091.0,552.7 L1091.5,555.7 L1092.0,558.7 L1092.5,561.7 L1093.0,564.7 L1093.5,567.7 L1094.0,570.7 L1094.5,573.7 L1095.0,576.7 L1095.5,579.7 L1096.0,582.3 L1096.5,585.0 L1097.0,587.7 L1097.5,590.3 L1098.0,593.0 L1098.5,595.7 L1099.0,598.3 L1099.5,601.0 L1100.0,603.4 L1100.5,605.7 L1101.0,608.0 L1101.5,610.4 L1102.0,612.7 L1102.5,615.0 L1103.0,617.4 L1103.5,619.7 L1104.0,621.8 L1104.5,623.8 L1105.0,625.8 L1105.5,627.8 L1106.0,629.8 L1106.5,631.8 L1107.0,633.8 L1107.5,635.8 L1108.0,637.6 L1108.5,639.2 L1109.0,640.9 L1109.5,642.6 L1110.0,644.2 L1110.5,645.9 L1111.0,647.6 L1111.5,649.2 L1112.0,650.6 L1112.5,651.6 L1113.0,652.6 L1113.5,653.6 L1114.0,654.6 L1114.5,655.6 L1115.0,656.6 L1115.5,657.6 L1116.0,658.4 L1116.5,658.9 L1117.0,659.4 L1117.5,659.9 L1118.0,660.4 L1118.5,660.9 L1119.0,661.4 L1119.5,661.9 L1120.0,662.4 L1120.5,662.8 L1121.0,662.6 L1121.5,662.5 L1122.0,662.3 L1122.5,661.6 L1123.0,660.8 L1123.5,659.9 L1124.0,659.1 L1124.5,658.3 L1125.0,657.4 L1125.5,656.6 L1126.0,655.8 L1126.5,654.4 L1127.0,652.7 L1127.5,651.1 L1128.0,649.4 L1128.5,647.7 L1129.0,646.1 L1129.5,644.4 L1130.0,642.7 L1130.5,640.9 L1131.0,638.9 L1131.5,636.9 L1132.0,634.9 L1132.5,632.9 L1133.0,630.9 L1133.5,628.9 L1134.0,626.9 L1134.5,624.7 L1135.0,622.4 L1135.5,620.1 L1136.0,617.7 L1136.5,615.4 L1137.0,613.1 L1137.5,610.7 L1138.0,608.4 L1138.5,606.1 L1139.0,603.7 L1139.5,601.4 L1140.0,599.1 L1140.5,596.7 L1141.0,594.4 L1141.5,592.1 L1142.0,589.7 L1142.5,587.2 L1143.0,583.7 L1143.5,580.2 L1144.0,576.7 L1144.5,573.2 L1145.0,569.7 L1145.5,567.3 L1146.0,565.3 L1146.5,563.3 L1147.0,561.3 L1147.5,559.3 L1148.0,557.3 L1148.5,555.3 L1149.0,553.3 L1149.5,550.7 L1150.0,547.7 L1150.5,544.7 L1151.0,541.7 L1151.5,538.7 L1152.0,535.5 L1152.5,531.5 L1153.0,527.5 L1153.5,523.5 L1154.0,519.5 L1154.5,515.5 L1155.0,511.5 L1155.5,507.5 L1156.0,503.5 L1156.5,499.5 L1157.0,495.5 L1157.5,491.7 L1158.0,488.2 L1158.5,484.7 L1159.0,481.2 L1159.5,477.7 L1160.0,474.2 L1160.5,470.7 L1161.0,467.2 L1161.5,463.7 L1162.0,460.2 L1162.5,456.7 L1163.0,453.5 L1163.5,450.5 L1164.0,447.5 L1164.5,444.5 L1165.0,441.5 L1165.5,438.7 L1166.0,438.7 L1166.5,438.7 L1167.0,438.7 L1167.0,438.7 L1167.2,431.5 L1167.7,428.2 L1168.2,424.9 L1168.7,421.5 L1169.2,418.2 L1169.7,414.9 L1170.2,411.5 L1170.7,408.2 L1171.2,404.9 L1171.7,401.5 L1172.2,398.2 L1172.7,394.9 L1173.2,391.5 L1173.7,388.4 L1174.2,385.4 L1174.7,382.4 L1175.2,379.4 L1175.7,376.4 L1176.2,373.4 L1176.7,370.4 L1177.2,367.4 L1177.7,364.8 L1178.2,362.5 L1178.7,360.1 L1179.2,357.8 L1179.7,355.5 L1180.2,353.1 L1180.7,350.8 L1181.2,348.5 L1181.7,346.0 L1182.2,343.3 L1182.7,340.6 L1183.2,338.0 L1183.7,335.3 L1184.2,332.6 L1184.7,330.0 L1185.2,327.3 L1185.7,324.9 L1186.2,323.0 L1186.7,321.1 L1187.2,319.3 L1187.7,317.4 L1188.2,315.5 L1188.7,313.6 L1189.2,311.8 L1189.7,309.9 L1190.2,308.0 L1190.7,306.1 L1191.2,304.4 L1191.7,302.6 L1192.2,300.8 L1192.7,299.1 L1193.2,297.3 L1193.7,295.6 L1194.2,293.8 L1194.7,292.0 L1195.2,290.3 L1195.7,288.8 L1196.2,287.4 L1196.7,285.9 L1197.2,284.5 L1197.7,283.0 L1198.2,281.6 L1198.7,280.1 L1199.2,278.8 L1199.7,277.6 L1200.2,276.5 L1200.7,275.3 L1201.2,274.2 L1201.7,273.0 L1202.2,271.9 L1202.7,271.4 L1203.2,271.9 L1203.7,272.3 L1204.2,272.7 L1204.7,273.2 L1205.2,272.3 L1205.7,271.2 L1206.2,271.7 L1206.7,272.1 L1207.2,272.6 L1207.7,273.0 L1208.2,273.4 L1208.7,273.9 L1209.2,274.3 L1209.7,274.8 L1210.2,275.2 L1210.7,276.1 L1211.2,277.1 L1211.7,278.1 L1212.2,279.1 L1212.7,280.1 L1213.2,281.1 L1213.7,282.1 L1214.2,283.1 L1214.7,284.4 L1215.2,285.7 L1215.7,287.1 L1216.2,288.5 L1216.7,289.9 L1217.2,291.2 L1217.7,292.6 L1218.2,295.0 L1218.7,297.8 L1219.2,300.5 L1219.7,303.2 L1220.2,305.7 L1220.7,308.1 L1221.2,310.5 L1221.7,312.9 L1222.2,315.2 L1222.7,317.6 L1223.2,320.0 L1223.7,322.0 L1224.2,324.0 L1224.7,326.0 L1225.2,328.0 L1225.7,330.0 L1226.2,332.0 L1226.7,334.0 L1227.2,336.0 L1227.7,338.3 L1228.2,340.6 L1228.7,343.0 L1229.2,345.3 L1229.7,347.6 L1230.2,350.0 L1230.7,352.3 L1231.2,354.6 L1231.7,357.5 L1232.2,360.5 L1232.7,363.5 L1233.2,366.5 L1233.7,369.5 L1234.2,372.5 L1234.7,375.5 L1235.2,378.5 L1235.7,381.3 L1236.2,383.9 L1236.7,386.6 L1237.2,389.3 L1237.7,391.9 L1238.2,394.6 L1238.7,397.3 L1239.2,399.9 L1239.7,402.9 L1240.2,406.3 L1240.7,409.6 L1241.2,412.9 L1241.7,416.3 L1242.2,419.6 L1242.7,422.9 L1243.2,426.3 L1243.7,429.6 L1244.2,432.9 L1244.7,436.3 L1245.2,439.6 L1245.7,442.9 L1246.2,446.3 L1246.7,449.6 L1247.2,452.9 L1247.7,456.3 L1248.2,459.6 L1248.7,462.9 L1249.2,466.3 L1249.7,469.6 L1250.2,472.9 L1250.7,476.3 L1251.2,479.6 L1251.7,482.9 L1252.2,485.9 L1252.7,488.9 L1252.8,489.3 L1253.0,488.0 L1253.5,491.4 L1254.0,494.7 L1254.5,498.0 L1255.0,501.7 L1255.5,505.5 L1256.0,509.3 L1256.5,513.1 L1257.0,516.9 L1257.5,520.7 L1258.0,524.5 L1258.5,528.3 L1259.0,532.1 L1259.5,535.9 L1260.0,539.2 L1260.5,542.6 L1261.0,545.9 L1261.5,549.3 L1262.0,552.6 L1262.5,556.0 L1263.0,559.3 L1263.5,562.7 L1264.0,566.0 L1264.5,569.0 L1265.0,571.8 L1265.5,574.7 L1266.0,577.6 L1266.5,580.4 L1267.0,583.3 L1267.5,586.1 L1268.0,588.4 L1268.5,590.6 L1269.0,592.8 L1269.5,594.9 L1270.0,597.1" fill="none" stroke="#D5811F" stroke-width="6.8" stroke-linejoin="round"/>
<path d="M162.5,417.5 L165.6,409.2 L169.8,404.0 L175.0,408.1 L178.1,388.3 L181.2,380.0 L185.4,388.3 L188.5,400.8 L191.7,413.3 L194.8,430.0 L197.9,438.3 L201.0,459.2 L204.2,480.0 L205.2,486.7 L208.3,507.5 L211.5,532.5 L214.6,557.5 L217.7,582.5 L220.8,603.3 L224.0,624.2 L227.1,645.0 L229.2,670.0 L230.2,680.8 L232.3,707.9 L233.3,724.6 L236.5,735.0 L238.5,710.0 L241.7,710.0 L244.8,722.5 L247.9,732.9 L251.0,747.5 L253.1,764.2 L255.2,785.0 L256.2,810.0 L260.4,807.9 L263.5,801.7 L264.6,785.0 L266.7,780.8 L269.8,772.5 L270.8,760.0 L271.9,732.9 L272.9,707.9 L275.0,695.4 L278.1,676.7 L280.2,664.2 L282.3,660.0 L283.3,655.4 L286.5,640.8 L289.6,628.3 L291.7,605.4 L292.7,582.5 L293.8,567.9 L295.8,549.2 L299.0,528.3 L302.1,507.5 L306.2,490.8 L309.4,482.5 L311.5,470.0 L314.6,440.4 L318.8,434.2 L322.9,430.0 L325.0,415.4 L328.1,396.7 L331.2,390.4 L337.5,389.4 L338.5,371.7 L341.7,359.2 L344.8,361.2 L347.9,367.5 L350.0,369.6 L350.4,371.7 L352.5,365.4 L355.6,357.1 L358.8,363.3 L359.8,384.2 L359.8,405.0 L360.8,425.8 L360.8,446.7 L361.9,461.2 L365.0,463.3 L369.2,461.2 L371.2,471.7 L374.4,475.8 L377.5,475.8 L380.6,480.0 L381.7,503.3 L383.8,524.2 L384.8,540.8 L386.9,557.5 L390.0,574.2 L392.1,595.0 L394.2,615.8 L396.2,636.7 L398.3,653.3 L400.4,670.0 L402.5,697.5 L406.7,701.7 L409.8,710.0 L410.8,722.5 L411.9,743.3 L414.0,722.5 L416.0,712.1 L420.2,714.2 L423.3,710.0 L427.5,712.1 L431.7,713.1 L432.7,697.5 L433.8,680.8 L434.8,666.2 L435.8,660.0 L440.0,645.0 L443.1,634.6 L445.2,632.5 L447.3,636.7 L449.4,653.3 L450.4,636.7 L451.5,615.8 L452.5,599.2 L454.6,586.7 L456.7,574.2 L458.8,559.6 L460.8,549.2 L462.9,536.7 L465.0,528.3 L467.1,520.0 L470.2,515.8 L472.3,522.1 L473.3,511.7 L474.4,495.0 L475.4,482.5 L477.5,470.0 L479.6,450.8 L481.7,438.3 L483.8,425.8 L487.9,419.6 L490.0,405.0 L492.1,388.3 L494.2,377.9 L496.2,363.3 L498.3,348.8 L501.5,338.3 L504.6,325.8 L507.7,320.6 L509.8,325.8 L511.9,342.5 L516.0,348.8 L521.2,355.0 L525.4,359.2 L527.5,369.6 L528.5,384.2 L531.7,392.5 L534.8,396.7 L535.8,413.3 L539.0,421.7 L540.0,425.8 L541.5,463.8 L546.7,480.4 L552.9,499.2 L557.1,522.1 L561.2,542.9 L565.4,570.0 L567.5,580.8 L570.6,601.7 L573.8,618.3 L577.9,632.9 L582.1,647.5 L586.2,660.0 L590.4,672.5 L594.6,680.8 L599.8,687.1 L605.0,680.8 L609.2,674.6 L613.3,664.2 L617.5,649.6 L621.7,632.9 L624.8,618.3 L627.9,597.5 L632.1,585.0 L635.2,572.5 L637.3,560.0 L640.4,522.1 L643.5,509.6 L646.7,495.0 L648.8,474.2 L649.8,453.3 L651.9,432.5 L655.0,417.9 L658.1,405.4 L661.2,390.8 L664.4,370.0 L667.5,344.6 L670.6,325.8 L674.8,311.2 L679.0,300.8 L684.2,295.6 L688.3,294.2 L692.5,296.7 L696.7,305.0 L700.8,315.4 L705.0,327.9 L705.5,327.8 L706.0,329.8 L706.5,331.8 L707.0,333.9 L707.5,335.9 L708.0,338.4 L708.5,340.9 L709.0,343.5 L709.5,346.1 L710.0,348.7 L710.5,351.2 L711.0,354.0 L711.5,357.5 L712.0,361.0 L712.5,364.5 L713.0,368.0 L713.5,371.5 L714.0,375.1 L714.5,378.2 L715.0,381.3 L715.5,384.4 L716.0,387.6 L716.5,390.7 L717.0,393.8 L717.5,396.8 L718.0,399.8 L718.5,402.9 L719.0,405.9 L719.5,408.9 L720.0,412.0 L720.5,415.3 L721.0,418.6 L721.5,421.9 L722.0,425.0 L722.5,428.1 L723.0,431.2 L723.5,434.3 L724.0,437.2 L724.5,440.0 L725.0,442.8 L725.5,445.6 L726.0,448.4 L726.5,451.2 L727.0,454.1 L727.5,457.0 L728.0,460.5 L728.5,463.9 L729.0,467.4 L729.5,470.9 L730.0,474.3 L730.5,477.8 L731.0,481.0 L731.5,484.3 L732.0,487.6 L732.5,490.8 L733.0,494.1 L733.5,497.3 L734.0,500.7 L734.5,504.0 L735.0,507.4 L735.5,510.7 L736.0,514.1 L736.5,517.5 L737.0,520.6 L737.5,523.6 L738.0,526.5 L738.5,529.5 L739.0,531.3 L739.5,531.3 L740.0,531.3 L740.4,531.3 L740.6,562.5 L742.7,583.3 L745.8,600.0 L750.0,620.8 L753.1,641.7 L756.2,658.3 L760.4,668.8 L764.6,664.6 L769.8,671.9 L775.0,666.7 L779.2,664.6 L783.3,654.2 L787.5,641.7 L791.7,629.2 L795.2,612.5 L797.9,595.8 L801.0,579.2 L803.3,562.5 L806.5,541.7 L809.6,520.8 L812.7,500.0 L813.0,497.0 L813.5,493.6 L814.0,490.3 L814.5,487.0 L815.0,483.6 L815.5,480.3 L816.0,477.0 L816.5,473.6 L817.0,470.3 L817.5,467.0 L818.0,463.6 L818.5,460.3 L819.0,457.0 L819.5,453.6 L820.0,450.3 L820.5,447.0 L821.0,443.6 L821.5,440.3 L822.0,437.0 L822.5,433.6 L823.0,430.3 L823.5,427.0 L823.8,425.3 L827.7,400.6 L830.8,385.0 L833.9,369.4 L837.1,353.8 L839.4,338.0 L842.5,322.5 L846.5,310.0 L851.0,303.0 L855.0,301.5 L859.0,303.0 L863.0,307.0 L866.5,312.0 L869.5,318.0 L872.5,327.0 L876.0,340.0 L879.5,355.0 L883.0,370.0 L885.8,378.0 L888.3,393.8 L891.0,409.4 L893.4,425.0 L896.5,440.6 L897.1,462.3 L897.6,467.3 L898.1,471.0 L898.6,474.3 L899.1,477.7 L899.6,481.0 L900.1,484.3 L900.6,487.7 L901.1,491.0 L901.6,494.3 L902.1,497.3 L902.6,500.0 L903.1,502.8 L903.6,505.5 L904.1,508.2 L904.6,511.0 L905.1,513.7 L905.6,516.4 L906.1,519.2 L906.6,521.9 L907.1,524.5 L907.6,527.2 L908.1,529.8 L908.6,532.4 L909.1,535.0 L909.6,537.6 L910.1,540.2 L910.6,542.8 L911.1,545.4 L911.6,548.0 L912.1,550.8 L912.6,553.7 L913.1,556.7 L913.6,559.7 L914.1,562.7 L914.6,565.7 L915.1,568.6 L915.6,571.6 L916.1,574.6 L916.6,577.5 L917.1,580.0 L917.6,582.5 L918.1,585.0 L918.6,587.5 L919.1,590.0 L919.6,592.5 L920.1,595.0 L920.6,597.5 L921.1,600.0 L921.6,602.5 L922.1,605.0 L922.6,607.5 L923.1,610.0 L923.6,612.5 L924.1,615.0 L924.6,617.5 L925.1,620.0 L925.6,622.5 L926.1,625.0 L926.6,627.5 L927.1,630.0 L927.6,631.8 L928.1,633.2 L928.6,634.6 L929.1,636.0 L929.6,637.4 L930.1,638.8 L930.6,640.2 L931.1,641.6 L931.6,643.0 L932.1,644.4 L932.6,645.8 L933.1,647.2 L933.6,648.6 L934.1,650.0 L934.6,650.0 L935.1,650.0 L935.6,650.0 L936.1,650.0 L936.2,650.0 L942.5,666.3 L953.3,677.1 L958.2,664.9 L961.4,640.5 L961.9,638.2 L962.4,636.2 L962.9,634.2 L963.4,632.2 L963.9,630.2 L964.4,628.2 L964.9,626.2 L965.4,624.2 L965.9,622.2 L966.4,620.2 L966.9,618.2 L967.4,616.2 L967.9,614.2 L968.4,612.2 L968.9,610.2 L969.4,607.5 L969.9,604.2 L970.4,600.9 L970.9,597.5 L971.4,594.2 L971.9,590.9 L972.4,587.5 L972.9,584.2 L973.4,580.9 L973.9,577.5 L974.4,574.2 L974.9,570.9 L975.4,567.5 L975.9,564.2 L976.4,560.9 L976.9,557.5 L977.4,554.2 L977.9,550.9 L978.4,547.5 L978.9,544.2 L979.4,540.9 L979.9,537.5 L980.4,534.2 L980.9,530.9 L981.4,527.3 L981.9,522.8 L982.4,518.3 L982.9,513.8 L983.4,509.3 L983.9,504.8 L984.4,501.7 L984.9,499.0 L985.4,496.4 L985.9,493.7 L986.4,491.0 L986.9,488.4 L987.4,485.7 L987.9,483.0 L988.4,480.2 L988.9,477.2 L989.4,474.2 L989.9,471.2 L990.4,468.2 L990.9,465.2 L991.4,462.2 L991.9,459.2 L992.4,456.2 L992.9,453.2 L993.3,450.9 L993.4,458.8 L993.9,455.5 L994.4,452.1 L994.9,448.8 L995.4,445.5 L995.9,442.1 L996.4,438.8 L996.9,435.5 L997.4,432.1 L997.9,428.8 L998.4,425.5 L998.9,422.1 L999.4,418.8 L999.9,415.5 L1000.4,412.1 L1000.9,408.8 L1001.4,405.5 L1001.9,402.1 L1002.4,398.8 L1002.9,395.5 L1003.4,391.9 L1003.9,387.9 L1004.4,383.9 L1004.9,379.9 L1005.4,375.9 L1005.9,371.9 L1006.4,369.7 L1006.9,367.7 L1007.4,365.7 L1007.9,363.7 L1008.4,361.7 L1008.9,359.7 L1009.4,357.7 L1009.9,355.7 L1010.4,353.2 L1010.9,350.5 L1011.4,347.8 L1011.9,345.2 L1012.4,342.5 L1012.9,339.8 L1013.4,337.2 L1013.9,334.5 L1014.4,332.2 L1014.9,330.2 L1015.4,328.2 L1015.9,326.2 L1016.4,324.2 L1016.9,322.2 L1017.4,320.2 L1017.9,318.2 L1018.4,316.2 L1018.9,314.2 L1019.4,312.2 L1019.9,310.2 L1020.4,308.2 L1020.9,306.2 L1021.4,304.2 L1021.9,302.2 L1022.4,300.5 L1022.9,299.1 L1023.4,297.8 L1023.9,296.5 L1024.4,295.1 L1024.9,293.8 L1025.4,292.5 L1025.9,291.1 L1026.4,289.9 L1026.9,288.9 L1027.4,287.9 L1027.9,286.9 L1028.4,285.9 L1028.9,284.9 L1029.4,283.9 L1029.9,282.9 L1030.4,281.9 L1030.9,281.6 L1031.4,281.3 L1031.9,280.9 L1032.4,280.6 L1032.9,280.3 L1033.4,279.9 L1033.9,279.6 L1034.4,279.3 L1034.9,279.2 L1035.4,279.1 L1035.9,280.6 L1036.4,282.2 L1036.9,283.8 L1037.4,285.4 L1037.9,287.0 L1038.4,289.0 L1038.9,291.0 L1039.4,293.0 L1039.9,295.0 L1040.4,297.0 L1040.9,298.8 L1041.4,300.5 L1041.9,302.2 L1042.4,303.8 L1042.9,305.5 L1043.4,307.2 L1043.9,308.8 L1044.4,310.5 L1044.9,312.3 L1045.4,314.3 L1045.9,316.3 L1046.4,318.3 L1046.9,320.3 L1047.4,322.3 L1047.9,324.3 L1048.4,326.3 L1048.9,328.3 L1049.4,330.6 L1049.9,333.0 L1050.4,335.3 L1050.9,337.6 L1051.4,340.0 L1051.9,342.3 L1052.4,344.6 L1052.9,347.0 L1053.4,349.0 L1053.9,351.0 L1054.4,353.0 L1054.9,355.0 L1055.4,357.0 L1055.9,359.0 L1056.4,361.0 L1056.9,363.0 L1057.4,365.0 L1057.9,367.0 L1058.4,369.0 L1058.9,371.0 L1059.4,373.0 L1059.9,375.0 L1060.4,377.0 L1060.9,379.0 L1061.4,381.6 L1061.9,384.6 L1062.4,387.5 L1062.9,390.4 L1063.4,393.3 L1063.9,396.2 L1064.4,399.3 L1064.9,403.2 L1065.4,407.0 L1065.9,410.9 L1066.4,414.7 L1066.9,418.6 L1067.4,422.4 L1067.9,426.2 L1068.4,429.5 L1068.9,432.8 L1069.4,436.2 L1069.9,439.5 L1070.4,442.8 L1070.9,446.2 L1071.4,449.5 L1071.9,452.8 L1072.4,455.8 L1072.9,458.8 L1073.4,461.8 L1073.9,464.8 L1074.4,467.8 L1074.9,470.8 L1075.4,473.8 L1075.9,476.8 L1076.4,479.5 L1076.9,482.2 L1077.4,484.9 L1077.9,487.5 L1078.4,490.2 L1078.9,492.9 L1079.4,495.5 L1079.9,498.2 L1080.4,498.8 L1080.9,498.8 L1081.4,498.8 L1081.6,498.8 L1082.0,521.9 L1082.5,524.6 L1083.0,527.3 L1083.5,529.9 L1084.0,532.6 L1084.5,535.5 L1085.0,538.5 L1085.5,541.5 L1086.0,544.5 L1086.5,547.5 L1087.0,550.5 L1087.5,553.5 L1088.0,556.5 L1088.5,559.5 L1089.0,562.5 L1089.5,565.5 L1090.0,568.5 L1090.5,571.5 L1091.0,574.5 L1091.5,577.5 L1092.0,580.5 L1092.5,583.3 L1093.0,586.0 L1093.5,588.7 L1094.0,591.3 L1094.5,594.0 L1095.0,596.7 L1095.5,599.3 L1096.0,602.0 L1096.5,604.6 L1097.0,606.9 L1097.5,609.2 L1098.0,611.6 L1098.5,613.9 L1099.0,616.2 L1099.5,618.6 L1100.0,620.9 L1100.5,623.2 L1101.0,625.2 L1101.5,627.2 L1102.0,629.2 L1102.5,631.2 L1103.0,633.2 L1103.5,635.2 L1104.0,637.2 L1104.5,639.2 L1105.0,640.8 L1105.5,642.5 L1106.0,644.2 L1106.5,645.8 L1107.0,647.5 L1107.5,649.2 L1108.0,650.8 L1108.5,652.5 L1109.0,653.6 L1109.5,654.6 L1110.0,655.6 L1110.5,656.6 L1111.0,657.6 L1111.5,658.6 L1112.0,659.6 L1112.5,660.6 L1113.0,661.2 L1113.5,661.7 L1114.0,662.2 L1114.5,662.7 L1115.0,663.2 L1115.5,663.7 L1116.0,664.2 L1116.5,664.7 L1117.0,665.2 L1117.5,665.7 L1118.0,666.2 L1118.5,666.1 L1119.0,665.9 L1119.5,665.7 L1120.0,665.6 L1120.5,665.5 L1121.0,666.0 L1121.5,666.1 L1122.0,666.0 L1122.5,665.8 L1123.0,665.6 L1123.5,665.5 L1124.0,665.3 L1124.5,665.1 L1125.0,665.0 L1125.5,664.5 L1126.0,663.7 L1126.5,662.9 L1127.0,662.0 L1127.5,661.2 L1128.0,660.4 L1128.5,659.5 L1129.0,658.7 L1129.5,657.7 L1130.0,656.0 L1130.5,654.3 L1131.0,652.7 L1131.5,651.0 L1132.0,649.3 L1132.5,647.7 L1133.0,646.0 L1133.5,644.3 L1134.0,642.3 L1134.5,640.3 L1135.0,638.3 L1135.5,636.3 L1136.0,634.3 L1136.5,632.3 L1137.0,630.3 L1137.5,628.3 L1138.0,625.9 L1138.5,623.6 L1139.0,621.3 L1139.5,618.9 L1140.0,616.6 L1140.5,614.3 L1141.0,611.9 L1141.5,609.6 L1142.0,607.3 L1142.5,604.9 L1143.0,602.6 L1143.5,600.3 L1144.0,597.9 L1144.5,595.6 L1145.0,593.3 L1145.5,590.9 L1146.0,587.7 L1146.5,584.2 L1147.0,580.7 L1147.5,577.2 L1148.0,573.7 L1148.5,570.7 L1149.0,568.7 L1149.5,566.7 L1150.0,564.7 L1150.5,562.7 L1151.0,560.7 L1151.5,558.7 L1152.0,556.7 L1152.5,554.5 L1153.0,551.5 L1153.5,548.5 L1154.0,545.5 L1154.5,542.5 L1155.0,539.5 L1155.5,535.7 L1156.0,531.7 L1156.5,527.7 L1157.0,523.7 L1157.5,519.7 L1158.0,515.7 L1158.5,511.7 L1159.0,507.7 L1159.5,503.7 L1160.0,499.7 L1160.5,495.7 L1161.0,492.2 L1161.5,488.7 L1162.0,485.2 L1162.5,481.7 L1163.0,478.2 L1163.5,474.7 L1164.0,471.2 L1164.5,467.7 L1165.0,464.2 L1165.5,460.7 L1166.0,457.3 L1166.5,454.3 L1167.0,451.3 L1167.0,450.9 L1167.2,455.5 L1167.7,452.1 L1168.2,448.8 L1168.7,445.5 L1169.2,442.1 L1169.7,438.8 L1170.2,435.5 L1170.7,432.1 L1171.2,428.8 L1171.7,425.5 L1172.2,422.1 L1172.7,418.8 L1173.2,415.5 L1173.7,412.1 L1174.2,408.8 L1174.7,405.5 L1175.2,402.1 L1175.7,398.8 L1176.2,395.5 L1176.7,392.2 L1177.2,389.2 L1177.7,386.2 L1178.2,383.2 L1178.7,380.2 L1179.2,377.2 L1179.7,374.2 L1180.2,371.2 L1180.7,368.3 L1181.2,366.0 L1181.7,363.7 L1182.2,361.3 L1182.7,359.0 L1183.2,356.7 L1183.7,354.3 L1184.2,352.0 L1184.7,349.6 L1185.2,347.0 L1185.7,344.3 L1186.2,341.6 L1186.7,339.0 L1187.2,336.3 L1187.7,333.6 L1188.2,331.0 L1188.7,328.3 L1189.2,326.4 L1189.7,324.5 L1190.2,322.6 L1190.7,320.7 L1191.2,318.9 L1191.7,317.0 L1192.2,315.1 L1192.7,313.2 L1193.2,311.3 L1193.7,309.5 L1194.2,307.7 L1194.7,305.9 L1195.2,304.2 L1195.7,302.4 L1196.2,300.6 L1196.7,298.9 L1197.2,297.1 L1197.7,295.3 L1198.2,293.6 L1198.7,292.0 L1199.2,290.5 L1199.7,289.1 L1200.2,287.6 L1200.7,286.2 L1201.2,284.7 L1201.7,283.3 L1202.2,281.9 L1202.7,280.7 L1203.2,279.6 L1203.7,278.4 L1204.2,277.2 L1204.7,276.1 L1205.2,276.2 L1205.7,276.7 L1206.2,277.1 L1206.7,277.5 L1207.2,278.1 L1207.7,279.1 L1208.2,280.1 L1208.7,281.1 L1209.2,282.1 L1209.7,283.1 L1210.2,284.1 L1210.7,285.1 L1211.2,286.1 L1211.7,287.5 L1212.2,288.9 L1212.7,290.3 L1213.2,291.6 L1213.7,293.0 L1214.2,294.4 L1214.7,296.0 L1215.2,298.7 L1215.7,301.5 L1216.2,304.2 L1216.7,306.8 L1217.2,309.2 L1217.7,311.6 L1218.2,314.0 L1218.7,316.4 L1219.2,318.8 L1219.7,321.2 L1220.2,323.4 L1220.7,325.4 L1221.2,327.4 L1221.7,329.4 L1222.2,331.4 L1222.7,333.4 L1223.2,335.4 L1223.7,337.4 L1224.2,339.5 L1224.7,341.8 L1225.2,344.2 L1225.7,346.5 L1226.2,348.8 L1226.7,351.2 L1227.2,353.5 L1227.7,355.8 L1228.2,358.3 L1228.7,361.3 L1229.2,364.3 L1229.7,367.3 L1230.2,370.3 L1230.7,373.3 L1231.2,376.3 L1231.7,379.3 L1232.2,382.3 L1232.7,384.9 L1233.2,387.6 L1233.7,390.3 L1234.2,392.9 L1234.7,395.6 L1235.2,398.3 L1235.7,400.9 L1236.2,403.6 L1236.7,406.9 L1237.2,410.2 L1237.7,413.5 L1238.2,416.9 L1238.7,420.2 L1239.2,423.5 L1239.7,426.9 L1240.2,430.2 L1240.7,433.5 L1241.2,436.9 L1241.7,440.2 L1242.2,443.5 L1242.7,446.9 L1243.2,450.2 L1243.7,453.5 L1244.2,456.9 L1244.7,460.2 L1245.2,463.5 L1245.7,466.9 L1246.2,470.2 L1246.7,473.5 L1247.2,476.9 L1247.7,480.2 L1248.2,483.5 L1248.7,486.7 L1249.2,489.7 L1249.7,492.7 L1250.2,495.7 L1250.7,498.7 L1251.2,501.5 L1251.7,501.5 L1252.2,501.5 L1252.7,501.5 L1252.8,501.5 L1253.0,498.6 L1253.5,502.1 L1254.0,505.9 L1254.5,509.7 L1255.0,513.4 L1255.5,517.2 L1256.0,521.0 L1256.5,524.8 L1257.0,528.6 L1257.5,532.4 L1258.0,536.2 L1258.5,539.8 L1259.0,543.2 L1259.5,546.5 L1260.0,549.9 L1260.5,553.2 L1261.0,556.6 L1261.5,559.9 L1262.0,563.3 L1262.5,566.6 L1263.0,569.9 L1263.5,572.7 L1264.0,575.6 L1264.5,578.4 L1265.0,581.3 L1265.5,584.2 L1266.0,587.0 L1266.5,589.7 L1267.0,591.9 L1267.5,594.1 L1268.0,596.2 L1268.5,598.4 L1269.0,600.6 L1269.5,602.3 L1270.0,602.3" fill="none" stroke="#D5811F" stroke-width="6.8" stroke-linejoin="round"/>
<g fill="#254D79" stroke="#0B3D72" stroke-width="1.6"><circle cx="175.4" cy="124.4" r="3.85"/><circle cx="187.1" cy="201.5" r="3.85"/><circle cx="181.2" cy="232.7" r="3.85"/><circle cx="164.6" cy="250.0" r="3.85"/><circle cx="178.8" cy="248.3" r="3.85"/><circle cx="195.0" cy="267.5" r="3.85"/><circle cx="184.0" cy="280.6" r="3.85"/><circle cx="192.5" cy="282.7" r="3.85"/><circle cx="200.8" cy="283.8" r="3.85"/><circle cx="170.2" cy="287.5" r="3.85"/><circle cx="314.4" cy="178.5" r="3.85"/><circle cx="319.8" cy="199.8" r="3.85"/><circle cx="341.9" cy="222.9" r="3.85"/><circle cx="328.1" cy="269.2" r="3.85"/><circle cx="167.7" cy="326.2" r="3.85"/><circle cx="189.6" cy="369.0" r="3.85"/><circle cx="209.2" cy="327.1" r="3.85"/><circle cx="197.9" cy="406.5" r="3.85"/><circle cx="206.2" cy="406.5" r="3.85"/><circle cx="214.6" cy="404.6" r="3.85"/><circle cx="239.6" cy="431.5" r="3.85"/><circle cx="172.9" cy="456.5" r="3.85"/><circle cx="211.9" cy="467.1" r="3.85"/><circle cx="220.0" cy="473.3" r="3.85"/><circle cx="228.3" cy="474.2" r="3.85"/><circle cx="272.9" cy="460.6" r="3.85"/><circle cx="294.8" cy="352.9" r="3.85"/><circle cx="292.1" cy="384.2" r="3.85"/><circle cx="305.8" cy="365.4" r="3.85"/><circle cx="303.1" cy="407.1" r="3.85"/><circle cx="308.8" cy="419.2" r="3.85"/><circle cx="317.1" cy="413.3" r="3.85"/><circle cx="300.4" cy="430.0" r="3.85"/><circle cx="311.5" cy="447.7" r="3.85"/><circle cx="322.5" cy="386.7" r="3.85"/><circle cx="336.5" cy="371.7" r="3.85"/><circle cx="333.3" cy="342.1" r="3.85"/><circle cx="344.8" cy="336.7" r="3.85"/><circle cx="325.2" cy="319.6" r="3.85"/><circle cx="330.8" cy="304.6" r="3.85"/><circle cx="339.2" cy="302.5" r="3.85"/><circle cx="346.9" cy="311.2" r="3.85"/><circle cx="349.0" cy="321.7" r="3.85"/><circle cx="203.5" cy="509.2" r="3.85"/><circle cx="222.9" cy="485.2" r="3.85"/><circle cx="225.6" cy="548.8" r="3.85"/><circle cx="247.5" cy="571.7" r="3.85"/><circle cx="250.6" cy="575.2" r="3.85"/><circle cx="217.3" cy="586.0" r="3.85"/><circle cx="242.1" cy="590.8" r="3.85"/><circle cx="245.0" cy="600.6" r="3.85"/><circle cx="275.4" cy="508.5" r="3.85"/><circle cx="284.0" cy="531.5" r="3.85"/><circle cx="297.7" cy="504.0" r="3.85"/><circle cx="278.1" cy="561.0" r="3.85"/><circle cx="280.8" cy="567.9" r="3.85"/><circle cx="289.4" cy="573.8" r="3.85"/><circle cx="267.3" cy="591.0" r="3.85"/><circle cx="286.7" cy="617.3" r="3.85"/><circle cx="253.1" cy="639.2" r="3.85"/><circle cx="231.0" cy="646.5" r="3.85"/><circle cx="264.4" cy="654.4" r="3.85"/><circle cx="234.0" cy="686.5" r="3.85"/><circle cx="236.9" cy="716.2" r="3.85"/><circle cx="258.8" cy="733.3" r="3.85"/><circle cx="261.9" cy="772.1" r="3.85"/><circle cx="270.0" cy="772.9" r="3.85"/><circle cx="256.2" cy="816.2" r="3.85"/><circle cx="358.8" cy="177.1" r="3.85"/><circle cx="356.0" cy="215.0" r="3.85"/><circle cx="353.1" cy="255.0" r="3.85"/><circle cx="508.3" cy="213.3" r="3.85"/><circle cx="497.3" cy="285.2" r="3.85"/><circle cx="510.8" cy="286.9" r="3.85"/><circle cx="380.8" cy="346.7" r="3.85"/><circle cx="378.1" cy="376.9" r="3.85"/><circle cx="367.1" cy="392.7" r="3.85"/><circle cx="361.2" cy="399.4" r="3.85"/><circle cx="383.8" cy="394.0" r="3.85"/><circle cx="369.8" cy="409.2" r="3.85"/><circle cx="372.7" cy="412.9" r="3.85"/><circle cx="375.4" cy="438.8" r="3.85"/><circle cx="389.2" cy="452.5" r="3.85"/><circle cx="364.4" cy="467.1" r="3.85"/><circle cx="524.8" cy="292.5" r="3.85"/><circle cx="491.5" cy="299.2" r="3.85"/><circle cx="502.5" cy="296.7" r="3.85"/><circle cx="505.6" cy="301.2" r="3.85"/><circle cx="514.0" cy="297.7" r="3.85"/><circle cx="519.2" cy="305.0" r="3.85"/><circle cx="499.8" cy="309.6" r="3.85"/><circle cx="483.3" cy="324.4" r="3.85"/><circle cx="527.5" cy="324.2" r="3.85"/><circle cx="533.8" cy="321.7" r="3.85"/><circle cx="537.9" cy="321.7" r="3.85"/><circle cx="516.5" cy="339.0" r="3.85"/><circle cx="522.3" cy="337.7" r="3.85"/><circle cx="486.2" cy="354.4" r="3.85"/><circle cx="494.4" cy="365.0" r="3.85"/><circle cx="530.0" cy="382.1" r="3.85"/><circle cx="469.6" cy="404.4" r="3.85"/><circle cx="477.9" cy="406.7" r="3.85"/><circle cx="535.4" cy="404.2" r="3.85"/><circle cx="475.0" cy="440.8" r="3.85"/><circle cx="480.6" cy="446.7" r="3.85"/><circle cx="489.0" cy="452.9" r="3.85"/><circle cx="464.0" cy="458.1" r="3.85"/><circle cx="539.6" cy="467.1" r="3.85"/><circle cx="391.9" cy="498.5" r="3.85"/><circle cx="386.2" cy="526.2" r="3.85"/><circle cx="433.3" cy="528.8" r="3.85"/><circle cx="466.2" cy="497.7" r="3.85"/><circle cx="472.5" cy="498.8" r="3.85"/><circle cx="455.6" cy="534.6" r="3.85"/><circle cx="452.5" cy="541.9" r="3.85"/><circle cx="458.8" cy="542.9" r="3.85"/><circle cx="444.6" cy="550.8" r="3.85"/><circle cx="461.2" cy="551.2" r="3.85"/><circle cx="405.8" cy="580.0" r="3.85"/><circle cx="394.6" cy="586.7" r="3.85"/><circle cx="439.0" cy="583.5" r="3.85"/><circle cx="447.3" cy="588.8" r="3.85"/><circle cx="436.2" cy="595.4" r="3.85"/><circle cx="441.7" cy="600.2" r="3.85"/><circle cx="397.5" cy="601.9" r="3.85"/><circle cx="400.2" cy="609.2" r="3.85"/><circle cx="414.0" cy="606.0" r="3.85"/><circle cx="450.0" cy="624.4" r="3.85"/><circle cx="428.1" cy="629.4" r="3.85"/><circle cx="422.5" cy="642.1" r="3.85"/><circle cx="416.9" cy="647.5" r="3.85"/><circle cx="408.5" cy="651.7" r="3.85"/><circle cx="425.0" cy="667.9" r="3.85"/><circle cx="403.1" cy="690.2" r="3.85"/><circle cx="419.6" cy="705.4" r="3.85"/><circle cx="430.6" cy="725.4" r="3.85"/><circle cx="411.2" cy="746.5" r="3.85"/><circle cx="682.7" cy="260.2" r="3.85"/><circle cx="694.0" cy="277.5" r="3.85"/><circle cx="688.3" cy="284.2" r="3.85"/><circle cx="691.5" cy="285.2" r="3.85"/><circle cx="680.0" cy="295.6" r="3.85"/><circle cx="673.8" cy="298.8" r="3.85"/><circle cx="685.2" cy="302.9" r="3.85"/><circle cx="696.7" cy="299.8" r="3.85"/><circle cx="663.3" cy="314.0" r="3.85"/><circle cx="669.2" cy="313.3" r="3.85"/><circle cx="699.2" cy="308.1" r="3.85"/><circle cx="701.9" cy="312.3" r="3.85"/><circle cx="707.7" cy="311.7" r="3.85"/><circle cx="677.1" cy="321.2" r="3.85"/><circle cx="671.7" cy="328.3" r="3.85"/><circle cx="705.0" cy="325.4" r="3.85"/><circle cx="710.4" cy="341.7" r="3.85"/><circle cx="713.3" cy="352.3" r="3.85"/><circle cx="666.0" cy="362.5" r="3.85"/><circle cx="660.6" cy="374.4" r="3.85"/><circle cx="716.0" cy="380.0" r="3.85"/><circle cx="549.8" cy="427.7" r="3.85"/><circle cx="546.7" cy="432.5" r="3.85"/><circle cx="543.5" cy="435.8" r="3.85"/><circle cx="555.2" cy="475.2" r="3.85"/><circle cx="560.8" cy="487.7" r="3.85"/><circle cx="552.5" cy="491.5" r="3.85"/><circle cx="566.5" cy="494.4" r="3.85"/><circle cx="558.1" cy="500.2" r="3.85"/><circle cx="563.3" cy="520.0" r="3.85"/><circle cx="577.5" cy="528.3" r="3.85"/><circle cx="571.7" cy="566.2" r="3.85"/><circle cx="655.0" cy="392.5" r="3.85"/><circle cx="652.3" cy="399.6" r="3.85"/><circle cx="657.7" cy="409.6" r="3.85"/><circle cx="649.4" cy="423.8" r="3.85"/><circle cx="643.8" cy="451.7" r="3.85"/><circle cx="646.7" cy="507.7" r="3.85"/><circle cx="641.5" cy="514.2" r="3.85"/><circle cx="638.3" cy="522.7" r="3.85"/><circle cx="635.8" cy="541.2" r="3.85"/><circle cx="627.1" cy="541.9" r="3.85"/><circle cx="630.4" cy="546.7" r="3.85"/><circle cx="624.4" cy="559.6" r="3.85"/><circle cx="721.2" cy="404.8" r="3.85"/><circle cx="718.5" cy="424.8" r="3.85"/><circle cx="724.2" cy="432.9" r="3.85"/><circle cx="729.6" cy="442.5" r="3.85"/><circle cx="726.5" cy="450.6" r="3.85"/><circle cx="729.0" cy="487.1" r="3.85"/><circle cx="569.2" cy="575.6" r="3.85"/><circle cx="596.7" cy="595.4" r="3.85"/><circle cx="574.4" cy="610.4" r="3.85"/><circle cx="585.6" cy="608.3" r="3.85"/><circle cx="588.5" cy="615.2" r="3.85"/><circle cx="579.4" cy="628.8" r="3.85"/><circle cx="583.1" cy="630.4" r="3.85"/><circle cx="607.9" cy="636.0" r="3.85"/><circle cx="616.2" cy="627.1" r="3.85"/><circle cx="619.0" cy="642.3" r="3.85"/><circle cx="613.3" cy="647.5" r="3.85"/><circle cx="605.0" cy="657.9" r="3.85"/><circle cx="591.0" cy="665.2" r="3.85"/><circle cx="610.6" cy="669.6" r="3.85"/><circle cx="602.5" cy="672.9" r="3.85"/><circle cx="594.2" cy="679.8" r="3.85"/><circle cx="600.0" cy="678.8" r="3.85"/><circle cx="621.7" cy="575.0" r="3.85"/><circle cx="632.7" cy="579.4" r="3.85"/><circle cx="868.3" cy="257.3" r="3.85"/><circle cx="851.7" cy="278.1" r="3.85"/><circle cx="860.0" cy="282.7" r="3.85"/><circle cx="854.4" cy="285.8" r="3.85"/><circle cx="848.8" cy="290.0" r="3.85"/><circle cx="862.9" cy="295.2" r="3.85"/><circle cx="856.9" cy="296.9" r="3.85"/><circle cx="871.5" cy="297.5" r="3.85"/><circle cx="874.2" cy="301.5" r="3.85"/><circle cx="865.4" cy="309.2" r="3.85"/><circle cx="843.3" cy="307.1" r="3.85"/><circle cx="846.0" cy="324.0" r="3.85"/><circle cx="835.0" cy="332.7" r="3.85"/><circle cx="838.1" cy="336.2" r="3.85"/><circle cx="840.4" cy="344.2" r="3.85"/><circle cx="877.3" cy="334.2" r="3.85"/><circle cx="882.3" cy="353.3" r="3.85"/><circle cx="884.8" cy="364.6" r="3.85"/><circle cx="832.3" cy="370.8" r="3.85"/><circle cx="829.6" cy="380.2" r="3.85"/><circle cx="826.7" cy="390.4" r="3.85"/><circle cx="887.5" cy="384.4" r="3.85"/><circle cx="890.4" cy="390.0" r="3.85"/><circle cx="893.1" cy="410.4" r="3.85"/><circle cx="896.0" cy="425.6" r="3.85"/><circle cx="820.0" cy="427.1" r="3.85"/><circle cx="824.2" cy="427.9" r="3.85"/><circle cx="732.9" cy="440.0" r="3.85"/><circle cx="735.4" cy="520.8" r="3.85"/><circle cx="807.5" cy="529.0" r="3.85"/><circle cx="810.2" cy="490.4" r="3.85"/><circle cx="813.3" cy="486.2" r="3.85"/><circle cx="815.8" cy="467.5" r="3.85"/><circle cx="818.5" cy="475.2" r="3.85"/><circle cx="738.1" cy="539.6" r="3.85"/><circle cx="743.8" cy="566.7" r="3.85"/><circle cx="749.4" cy="566.7" r="3.85"/><circle cx="740.8" cy="576.5" r="3.85"/><circle cx="747.1" cy="574.4" r="3.85"/><circle cx="752.1" cy="618.8" r="3.85"/><circle cx="757.5" cy="632.3" r="3.85"/><circle cx="760.4" cy="637.5" r="3.85"/><circle cx="763.5" cy="638.1" r="3.85"/><circle cx="766.2" cy="646.9" r="3.85"/><circle cx="770.8" cy="652.1" r="3.85"/><circle cx="774.0" cy="649.6" r="3.85"/><circle cx="779.6" cy="647.9" r="3.85"/><circle cx="785.2" cy="644.4" r="3.85"/><circle cx="776.9" cy="658.8" r="3.85"/><circle cx="754.6" cy="661.9" r="3.85"/><circle cx="768.8" cy="672.1" r="3.85"/><circle cx="782.3" cy="626.7" r="3.85"/><circle cx="787.9" cy="622.9" r="3.85"/><circle cx="793.8" cy="625.4" r="3.85"/><circle cx="790.8" cy="616.7" r="3.85"/><circle cx="796.2" cy="588.5" r="3.85"/><circle cx="799.2" cy="576.7" r="3.85"/><circle cx="801.9" cy="560.8" r="3.85"/><circle cx="804.2" cy="532.9" r="3.85"/><circle cx="899.0" cy="448.1" r="3.85"/><circle cx="901.4" cy="479.3" r="3.85"/><circle cx="904.4" cy="490.7" r="3.85"/><circle cx="907.4" cy="501.5" r="3.85"/><circle cx="909.8" cy="518.0" r="3.85"/><circle cx="912.5" cy="543.8" r="3.85"/><circle cx="915.5" cy="559.2" r="3.85"/><circle cx="918.2" cy="583.1" r="3.85"/><circle cx="920.9" cy="580.9" r="3.85"/><circle cx="926.4" cy="593.4" r="3.85"/><circle cx="934.5" cy="618.9" r="3.85"/><circle cx="923.7" cy="625.1" r="3.85"/><circle cx="931.8" cy="627.3" r="3.85"/><circle cx="929.3" cy="640.8" r="3.85"/><circle cx="937.2" cy="656.8" r="3.85"/><circle cx="942.6" cy="657.3" r="3.85"/><circle cx="946.7" cy="657.6" r="3.85"/><circle cx="948.6" cy="648.4" r="3.85"/><circle cx="951.3" cy="666.0" r="3.85"/><circle cx="954.3" cy="673.1" r="3.85"/><circle cx="940.2" cy="677.4" r="3.85"/><circle cx="956.7" cy="644.1" r="3.85"/><circle cx="960.2" cy="637.8" r="3.85"/><circle cx="962.7" cy="634.0" r="3.85"/><circle cx="964.9" cy="612.4" r="3.85"/><circle cx="968.1" cy="608.0" r="3.85"/><circle cx="970.5" cy="590.7" r="3.85"/><circle cx="973.5" cy="569.0" r="3.85"/><circle cx="976.5" cy="562.0" r="3.85"/><circle cx="978.9" cy="530.0" r="3.85"/><circle cx="984.6" cy="519.7" r="3.85"/><circle cx="981.7" cy="506.1" r="3.85"/><circle cx="987.1" cy="490.9" r="3.85"/><circle cx="990.1" cy="462.2" r="3.85"/><circle cx="1028.7" cy="276.6" r="3.85"/><circle cx="1035.0" cy="277.9" r="3.85"/><circle cx="1026.0" cy="286.1" r="3.85"/><circle cx="1023.8" cy="290.7" r="3.85"/><circle cx="1032.2" cy="288.2" r="3.85"/><circle cx="1038.2" cy="288.2" r="3.85"/><circle cx="1042.8" cy="298.8" r="3.85"/><circle cx="1046.3" cy="306.9" r="3.85"/><circle cx="1039.8" cy="308.6" r="3.85"/><circle cx="1048.5" cy="314.3" r="3.85"/><circle cx="1020.9" cy="311.0" r="3.85"/><circle cx="1017.6" cy="318.0" r="3.85"/><circle cx="1011.9" cy="328.9" r="3.85"/><circle cx="1015.2" cy="338.4" r="3.85"/><circle cx="1050.9" cy="332.1" r="3.85"/><circle cx="1009.8" cy="353.8" r="3.85"/><circle cx="1006.5" cy="359.2" r="3.85"/><circle cx="1053.7" cy="353.3" r="3.85"/><circle cx="1057.2" cy="356.5" r="3.85"/><circle cx="1001.1" cy="372.8" r="3.85"/><circle cx="1059.6" cy="371.2" r="3.85"/><circle cx="1062.6" cy="376.3" r="3.85"/><circle cx="1004.1" cy="391.2" r="3.85"/><circle cx="1064.8" cy="390.1" r="3.85"/><circle cx="998.6" cy="402.6" r="3.85"/><circle cx="995.7" cy="417.8" r="3.85"/><circle cx="1068.0" cy="414.5" r="3.85"/><circle cx="993.0" cy="435.1" r="3.85"/><circle cx="1070.2" cy="435.1" r="3.85"/><circle cx="1073.2" cy="456.3" r="3.85"/><circle cx="1076.2" cy="470.6" r="3.85"/><circle cx="1078.9" cy="492.6" r="3.85"/><circle cx="1081.6" cy="498.8" r="3.85"/><circle cx="1084.4" cy="517.8" r="3.85"/><circle cx="1087.1" cy="532.7" r="3.85"/><circle cx="1089.8" cy="559.2" r="3.85"/><circle cx="1092.8" cy="573.6" r="3.85"/><circle cx="1095.8" cy="579.3" r="3.85"/><circle cx="1098.2" cy="604.0" r="3.85"/><circle cx="1100.9" cy="617.8" r="3.85"/><circle cx="1103.9" cy="622.9" r="3.85"/><circle cx="1106.6" cy="634.6" r="3.85"/><circle cx="1109.3" cy="647.3" r="3.85"/><circle cx="1112.3" cy="646.8" r="3.85"/><circle cx="1115.0" cy="655.7" r="3.85"/><circle cx="1120.2" cy="656.0" r="3.85"/><circle cx="1117.7" cy="669.3" r="3.85"/><circle cx="1123.4" cy="670.9" r="3.85"/><circle cx="1125.9" cy="649.5" r="3.85"/><circle cx="1128.8" cy="659.0" r="3.85"/><circle cx="1131.3" cy="637.3" r="3.85"/><circle cx="1134.5" cy="639.7" r="3.85"/><circle cx="1136.7" cy="617.5" r="3.85"/><circle cx="1139.9" cy="614.3" r="3.85"/><circle cx="1142.7" cy="593.4" r="3.85"/><circle cx="1145.4" cy="582.0" r="3.85"/><circle cx="1148.1" cy="564.1" r="3.85"/><circle cx="1151.1" cy="556.3" r="3.85"/><circle cx="1153.5" cy="540.3" r="3.85"/><circle cx="1156.2" cy="509.4" r="3.85"/><circle cx="1159.5" cy="497.2" r="3.85"/><circle cx="1161.9" cy="471.4" r="3.85"/><circle cx="1164.9" cy="454.1" r="3.85"/><circle cx="1167.9" cy="440.8" r="3.85"/><circle cx="1244.8" cy="440.8" r="3.85"/><circle cx="1247.8" cy="464.4" r="3.85"/><circle cx="1250.5" cy="478.5" r="3.85"/><circle cx="1253.2" cy="506.4" r="3.85"/><circle cx="1255.9" cy="513.2" r="3.85"/><circle cx="1257.8" cy="536.7" r="3.85"/><circle cx="1259.7" cy="546.5" r="3.85"/><circle cx="1203.8" cy="271.7" r="3.85"/><circle cx="1206.3" cy="275.2" r="3.85"/><circle cx="1209.3" cy="282.0" r="3.85"/><circle cx="1200.6" cy="290.4" r="3.85"/><circle cx="1212.0" cy="288.8" r="3.85"/><circle cx="1197.9" cy="295.6" r="3.85"/><circle cx="1214.7" cy="294.7" r="3.85"/><circle cx="1194.9" cy="300.7" r="3.85"/><circle cx="1217.7" cy="303.1" r="3.85"/><circle cx="1189.2" cy="311.0" r="3.85"/><circle cx="1192.5" cy="315.9" r="3.85"/><circle cx="1220.1" cy="312.1" r="3.85"/><circle cx="1186.8" cy="332.1" r="3.85"/><circle cx="1222.8" cy="323.5" r="3.85"/><circle cx="1184.1" cy="339.7" r="3.85"/><circle cx="1225.8" cy="336.7" r="3.85"/><circle cx="1228.8" cy="338.9" r="3.85"/><circle cx="1181.1" cy="351.4" r="3.85"/><circle cx="1230.9" cy="362.5" r="3.85"/><circle cx="1233.9" cy="375.2" r="3.85"/><circle cx="1178.9" cy="380.9" r="3.85"/><circle cx="1175.4" cy="383.1" r="3.85"/><circle cx="1236.6" cy="390.7" r="3.85"/><circle cx="1173.0" cy="403.7" r="3.85"/><circle cx="1239.3" cy="404.8" r="3.85"/><circle cx="1242.3" cy="416.2" r="3.85"/><circle cx="1170.2" cy="422.4" r="3.85"/><circle cx="1264.4" cy="556.8" r="3.85"/><circle cx="1267.2" cy="588.1" r="3.85"/><circle cx="1270.0" cy="593.8" r="3.85"/></g>
<text x="717.95" y="41.5" font-family="DejaVu Sans, Liberation Sans, sans-serif" font-size="32.17" text-anchor="middle" fill="#000">Heteroskedastic BART fit with 95% posterior intervals</text>
<text x="92.75" y="109.9" font-family="DejaVu Sans, Liberation Sans, sans-serif" font-size="29.9" text-anchor="end" fill="#4D4D4D">2</text>
<text x="92.75" y="296.6" font-family="DejaVu Sans, Liberation Sans, sans-serif" font-size="29.9" text-anchor="end" fill="#4D4D4D">1</text>
<text x="92.75" y="483.4" font-family="DejaVu Sans, Liberation Sans, sans-serif" font-size="29.9" text-anchor="end" fill="#4D4D4D">0</text>
<text x="92.75" y="670.1" font-family="DejaVu Sans, Liberation Sans, sans-serif" font-size="29.9" text-anchor="end" fill="#4D4D4D">-1</text>
<text x="92.75" y="856.9" font-family="DejaVu Sans, Liberation Sans, sans-serif" font-size="29.9" text-anchor="end" fill="#4D4D4D">-2</text>
<text x="165.00" y="891" font-family="DejaVu Sans, Liberation Sans, sans-serif" font-size="29.9" text-anchor="middle" fill="#4D4D4D">0.0</text>
<text x="441.25" y="891" font-family="DejaVu Sans, Liberation Sans, sans-serif" font-size="29.9" text-anchor="middle" fill="#4D4D4D">2.5</text>
<text x="717.50" y="891" font-family="DejaVu Sans, Liberation Sans, sans-serif" font-size="29.9" text-anchor="middle" fill="#4D4D4D">5.0</text>
<text x="993.75" y="891" font-family="DejaVu Sans, Liberation Sans, sans-serif" font-size="29.9" text-anchor="middle" fill="#4D4D4D">7.5</text>
<text x="1270.00" y="891" font-family="DejaVu Sans, Liberation Sans, sans-serif" font-size="29.9" text-anchor="middle" fill="#4D4D4D">10.0</text>
<text x="717.6" y="933" font-family="DejaVu Sans, Liberation Sans, sans-serif" font-size="37.3" text-anchor="middle" fill="#000">X</text>
<text transform="translate(45.5,460.0) rotate(-90)" x="0" y="0" font-family="DejaVu Sans, Liberation Sans, sans-serif" font-size="37.3" text-anchor="middle" fill="#000">y</text>
</svg>
</body></html>
